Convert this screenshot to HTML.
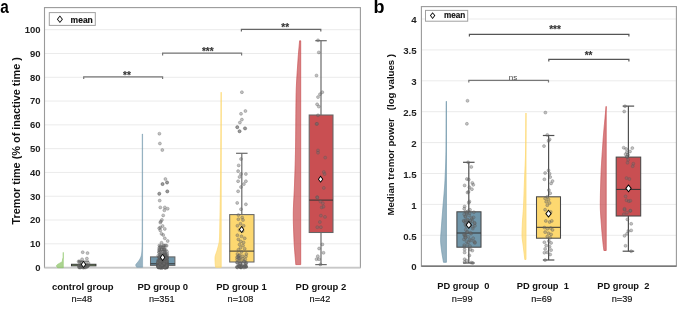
<!DOCTYPE html>
<html><head><meta charset="utf-8"><style>
html,body{margin:0;padding:0;background:#fff;}
svg{display:block;font-family:"Liberation Sans", sans-serif;will-change:transform;}
text{white-space:pre;}
</style></head><body>
<svg width="685" height="312" viewBox="0 0 685 312">
<rect width="685" height="312" fill="#fff"/>
<text transform="translate(0.2,12.5) scale(0.87,1)" font-size="17.6" font-weight="bold" fill="#000">a</text>
<text x="373.60" y="12.50" font-size="18" font-weight="bold" text-anchor="start" fill="#000" >b</text>
<line x1="44.50" y1="243.81" x2="360.40" y2="243.81" stroke="#ebebeb" stroke-width="1" />
<line x1="44.50" y1="220.02" x2="360.40" y2="220.02" stroke="#ebebeb" stroke-width="1" />
<line x1="44.50" y1="196.23" x2="360.40" y2="196.23" stroke="#ebebeb" stroke-width="1" />
<line x1="44.50" y1="172.44" x2="360.40" y2="172.44" stroke="#ebebeb" stroke-width="1" />
<line x1="44.50" y1="148.65" x2="360.40" y2="148.65" stroke="#ebebeb" stroke-width="1" />
<line x1="44.50" y1="124.86" x2="360.40" y2="124.86" stroke="#ebebeb" stroke-width="1" />
<line x1="44.50" y1="101.07" x2="360.40" y2="101.07" stroke="#ebebeb" stroke-width="1" />
<line x1="44.50" y1="77.28" x2="360.40" y2="77.28" stroke="#ebebeb" stroke-width="1" />
<line x1="44.50" y1="53.49" x2="360.40" y2="53.49" stroke="#ebebeb" stroke-width="1" />
<line x1="44.50" y1="29.70" x2="360.40" y2="29.70" stroke="#ebebeb" stroke-width="1" />
<text x="40.60" y="271.00" font-size="9.5" font-weight="bold" text-anchor="end" fill="#222" >0</text>
<text x="40.60" y="247.21" font-size="9.5" font-weight="bold" text-anchor="end" fill="#222" >10</text>
<text x="40.60" y="223.42" font-size="9.5" font-weight="bold" text-anchor="end" fill="#222" >20</text>
<text x="40.60" y="199.63" font-size="9.5" font-weight="bold" text-anchor="end" fill="#222" >30</text>
<text x="40.60" y="175.84" font-size="9.5" font-weight="bold" text-anchor="end" fill="#222" >40</text>
<text x="40.60" y="152.05" font-size="9.5" font-weight="bold" text-anchor="end" fill="#222" >50</text>
<text x="40.60" y="128.26" font-size="9.5" font-weight="bold" text-anchor="end" fill="#222" >60</text>
<text x="40.60" y="104.47" font-size="9.5" font-weight="bold" text-anchor="end" fill="#222" >70</text>
<text x="40.60" y="80.68" font-size="9.5" font-weight="bold" text-anchor="end" fill="#222" >80</text>
<text x="40.60" y="56.89" font-size="9.5" font-weight="bold" text-anchor="end" fill="#222" >90</text>
<text x="40.60" y="33.10" font-size="9.5" font-weight="bold" text-anchor="end" fill="#222" >100</text>
<text transform="translate(20.3,224.6) rotate(-90) scale(1.09,1)" font-size="10" font-weight="bold" fill="#111">Tremor time (% of inactive time )</text>
<rect x="44.5" y="7.6" width="315.90" height="260.00" fill="none" stroke="#9a9a9a" stroke-width="1.1"/>
<line x1="44.5" y1="267.6" x2="360.4" y2="267.6" stroke="#c8c8c8" stroke-width="1.6"/>
<path d="M63.30,252.40 L63.25,252.40 L63.24,253.40 L63.23,254.40 L63.23,255.40 L63.22,256.40 L63.20,257.40 L62.85,258.40 L62.54,259.40 L62.45,260.40 L62.32,261.40 L61.13,262.40 L59.28,263.40 L57.52,264.40 L56.53,265.40 L56.60,266.40 L57.39,267.40 L57.60,267.70 L63.30,267.70 Z" fill="#8cc466" fill-opacity="0.72" stroke="#8cc466" stroke-opacity="0.8" stroke-width="0.7" stroke-linejoin="round"/>
<path d="M142.60,134.00 L142.20,134.00 L142.20,135.00 L142.20,136.00 L142.20,137.00 L142.20,138.00 L142.20,139.00 L142.20,140.00 L142.19,141.00 L142.19,142.00 L142.19,143.00 L142.19,144.00 L142.19,145.00 L142.19,146.00 L142.19,147.00 L142.19,148.00 L142.19,149.00 L142.19,150.00 L142.19,151.00 L142.19,152.00 L142.19,153.00 L142.19,154.00 L142.18,155.00 L142.18,156.00 L142.18,157.00 L142.18,158.00 L142.18,159.00 L142.18,160.00 L142.18,161.00 L142.18,162.00 L142.18,163.00 L142.18,164.00 L142.18,165.00 L142.18,166.00 L142.18,167.00 L142.18,168.00 L142.18,169.00 L142.17,170.00 L142.17,171.00 L142.17,172.00 L142.17,173.00 L142.17,174.00 L142.17,175.00 L142.17,176.00 L142.17,177.00 L142.17,178.00 L142.17,179.00 L142.17,180.00 L142.17,181.00 L142.17,182.00 L142.16,183.00 L142.16,184.00 L142.16,185.00 L142.16,186.00 L142.16,187.00 L142.16,188.00 L142.16,189.00 L142.16,190.00 L142.16,191.00 L142.16,192.00 L142.16,193.00 L142.16,194.00 L142.15,195.00 L142.15,196.00 L142.15,197.00 L142.15,198.00 L142.15,199.00 L142.15,200.00 L142.15,201.00 L142.15,202.00 L142.15,203.00 L142.15,204.00 L142.15,205.00 L142.14,206.00 L142.14,207.00 L142.14,208.00 L142.14,209.00 L142.14,210.00 L142.14,211.00 L142.14,212.00 L142.14,213.00 L142.14,214.00 L142.14,215.00 L142.14,216.00 L142.14,217.00 L142.13,218.00 L142.13,219.00 L142.13,220.00 L142.13,221.00 L142.13,222.00 L142.13,223.00 L142.13,224.00 L142.13,225.00 L142.13,226.00 L142.12,227.00 L142.12,228.00 L142.12,229.00 L142.12,230.00 L142.12,231.00 L142.12,232.00 L142.11,233.00 L142.11,234.00 L142.11,235.00 L142.11,236.00 L142.11,237.00 L142.10,238.00 L142.10,239.00 L142.10,240.00 L142.10,241.00 L142.09,242.00 L142.07,243.00 L142.06,244.00 L142.04,245.00 L142.02,246.00 L141.99,247.00 L141.96,248.00 L141.93,249.00 L141.90,250.00 L141.85,251.00 L141.77,252.00 L141.67,253.00 L141.55,254.00 L141.40,255.00 L141.17,256.00 L140.82,257.00 L140.40,258.00 L139.90,259.00 L139.28,260.00 L138.60,261.00 L137.82,262.00 L137.00,263.00 L136.11,264.00 L135.60,265.00 L135.93,266.00 L136.54,267.00 L136.70,267.30 L142.60,267.30 Z" fill="#7096aa" fill-opacity="0.72" stroke="#7096aa" stroke-opacity="0.8" stroke-width="0.6" stroke-linejoin="round"/>
<path d="M221.20,92.20 L221.15,92.20 L221.14,93.20 L221.14,94.20 L221.13,95.20 L221.12,96.20 L221.12,97.20 L221.11,98.20 L221.10,99.20 L221.10,100.20 L221.09,101.20 L221.09,102.20 L221.08,103.20 L221.07,104.20 L221.07,105.20 L221.06,106.20 L221.06,107.20 L221.05,108.20 L221.04,109.20 L221.04,110.20 L221.03,111.20 L221.03,112.20 L221.02,113.20 L221.02,114.20 L221.01,115.20 L221.00,116.20 L221.00,117.20 L220.99,118.20 L220.99,119.20 L220.98,120.20 L220.98,121.20 L220.97,122.20 L220.96,123.20 L220.96,124.20 L220.95,125.20 L220.95,126.20 L220.94,127.20 L220.94,128.20 L220.93,129.20 L220.92,130.20 L220.92,131.20 L220.91,132.20 L220.91,133.20 L220.90,134.20 L220.89,135.20 L220.89,136.20 L220.88,137.20 L220.88,138.20 L220.87,139.20 L220.86,140.20 L220.86,141.20 L220.85,142.20 L220.84,143.20 L220.84,144.20 L220.83,145.20 L220.82,146.20 L220.82,147.20 L220.81,148.20 L220.80,149.20 L220.80,150.20 L220.79,151.20 L220.78,152.20 L220.78,153.20 L220.77,154.20 L220.76,155.20 L220.76,156.20 L220.75,157.20 L220.74,158.20 L220.73,159.20 L220.73,160.20 L220.72,161.20 L220.71,162.20 L220.70,163.20 L220.69,164.20 L220.69,165.20 L220.68,166.20 L220.67,167.20 L220.66,168.20 L220.65,169.20 L220.64,170.20 L220.63,171.20 L220.63,172.20 L220.62,173.20 L220.61,174.20 L220.60,175.20 L220.59,176.20 L220.58,177.20 L220.57,178.20 L220.56,179.20 L220.55,180.20 L220.53,181.20 L220.52,182.20 L220.51,183.20 L220.50,184.20 L220.49,185.20 L220.47,186.20 L220.46,187.20 L220.45,188.20 L220.43,189.20 L220.42,190.20 L220.40,191.20 L220.39,192.20 L220.37,193.20 L220.36,194.20 L220.34,195.20 L220.33,196.20 L220.31,197.20 L220.30,198.20 L220.28,199.20 L220.26,200.20 L220.25,201.20 L220.23,202.20 L220.21,203.20 L220.19,204.20 L220.18,205.20 L220.16,206.20 L220.14,207.20 L220.12,208.20 L220.10,209.20 L220.09,210.20 L220.07,211.20 L220.05,212.20 L220.03,213.20 L220.01,214.20 L219.99,215.20 L219.97,216.20 L219.95,217.20 L219.93,218.20 L219.91,219.20 L219.90,220.20 L219.88,221.20 L219.86,222.20 L219.84,223.20 L219.82,224.20 L219.80,225.20 L219.78,226.20 L219.76,227.20 L219.74,228.20 L219.72,229.20 L219.70,230.20 L219.68,231.20 L219.66,232.20 L219.64,233.20 L219.61,234.20 L219.58,235.20 L219.55,236.20 L219.52,237.20 L219.48,238.20 L219.44,239.20 L219.39,240.20 L219.30,241.20 L219.16,242.20 L218.97,243.20 L218.74,244.20 L218.49,245.20 L218.23,246.20 L217.95,247.20 L217.67,248.20 L217.40,249.20 L217.15,250.20 L216.85,251.20 L216.51,252.20 L216.14,253.20 L215.79,254.20 L215.46,255.20 L215.21,256.20 L215.04,257.20 L215.00,258.20 L215.01,259.20 L215.04,260.20 L215.08,261.20 L215.13,262.20 L215.18,263.20 L215.25,264.20 L215.32,265.20 L215.48,266.20 L215.68,267.20 L215.70,267.30 L221.20,267.30 Z" fill="#fdd870" fill-opacity="0.72" stroke="#fdd870" stroke-opacity="0.8" stroke-width="0.9" stroke-linejoin="round"/>
<path d="M300.70,40.80 L299.60,40.80 L299.52,41.80 L299.43,42.80 L299.34,43.80 L299.26,44.80 L299.17,45.80 L299.08,46.80 L298.99,47.80 L298.90,48.80 L298.81,49.80 L298.72,50.80 L298.64,51.80 L298.55,52.80 L298.47,53.80 L298.38,54.80 L298.30,55.80 L298.23,56.80 L298.15,57.80 L298.08,58.80 L298.01,59.80 L297.95,60.80 L297.88,61.80 L297.81,62.80 L297.75,63.80 L297.68,64.80 L297.61,65.80 L297.54,66.80 L297.47,67.80 L297.41,68.80 L297.34,69.80 L297.27,70.80 L297.20,71.80 L297.14,72.80 L297.07,73.80 L297.01,74.80 L296.95,75.80 L296.88,76.80 L296.82,77.80 L296.76,78.80 L296.71,79.80 L296.65,80.80 L296.60,81.80 L296.54,82.80 L296.49,83.80 L296.44,84.80 L296.40,85.80 L296.35,86.80 L296.31,87.80 L296.27,88.80 L296.24,89.80 L296.21,90.80 L296.18,91.80 L296.15,92.80 L296.12,93.80 L296.10,94.80 L296.09,95.80 L296.07,96.80 L296.05,97.80 L296.04,98.80 L296.02,99.80 L296.01,100.80 L295.99,101.80 L295.98,102.80 L295.96,103.80 L295.95,104.80 L295.94,105.80 L295.93,106.80 L295.92,107.80 L295.91,108.80 L295.90,109.80 L295.89,110.80 L295.88,111.80 L295.87,112.80 L295.86,113.80 L295.85,114.80 L295.84,115.80 L295.83,116.80 L295.82,117.80 L295.81,118.80 L295.81,119.80 L295.80,120.80 L295.79,121.80 L295.78,122.80 L295.77,123.80 L295.77,124.80 L295.76,125.80 L295.75,126.80 L295.74,127.80 L295.73,128.80 L295.73,129.80 L295.72,130.80 L295.71,131.80 L295.70,132.80 L295.69,133.80 L295.68,134.80 L295.67,135.80 L295.66,136.80 L295.65,137.80 L295.64,138.80 L295.63,139.80 L295.62,140.80 L295.61,141.80 L295.60,142.80 L295.59,143.80 L295.57,144.80 L295.56,145.80 L295.55,146.80 L295.53,147.80 L295.52,148.80 L295.50,149.80 L295.49,150.80 L295.47,151.80 L295.45,152.80 L295.43,153.80 L295.41,154.80 L295.39,155.80 L295.37,156.80 L295.34,157.80 L295.32,158.80 L295.29,159.80 L295.27,160.80 L295.24,161.80 L295.21,162.80 L295.19,163.80 L295.16,164.80 L295.13,165.80 L295.10,166.80 L295.07,167.80 L295.04,168.80 L295.01,169.80 L294.97,170.80 L294.94,171.80 L294.91,172.80 L294.88,173.80 L294.84,174.80 L294.81,175.80 L294.78,176.80 L294.74,177.80 L294.71,178.80 L294.67,179.80 L294.64,180.80 L294.61,181.80 L294.57,182.80 L294.54,183.80 L294.51,184.80 L294.47,185.80 L294.43,186.80 L294.39,187.80 L294.35,188.80 L294.30,189.80 L294.26,190.80 L294.21,191.80 L294.16,192.80 L294.10,193.80 L294.05,194.80 L294.00,195.80 L293.94,196.80 L293.89,197.80 L293.84,198.80 L293.79,199.80 L293.73,200.80 L293.68,201.80 L293.64,202.80 L293.59,203.80 L293.55,204.80 L293.50,205.80 L293.47,206.80 L293.43,207.80 L293.40,208.80 L293.37,209.80 L293.35,210.80 L293.33,211.80 L293.31,212.80 L293.30,213.80 L293.30,214.80 L293.30,215.80 L293.31,216.80 L293.31,217.80 L293.32,218.80 L293.34,219.80 L293.35,220.80 L293.37,221.80 L293.39,222.80 L293.42,223.80 L293.44,224.80 L293.47,225.80 L293.50,226.80 L293.53,227.80 L293.57,228.80 L293.60,229.80 L293.64,230.80 L293.67,231.80 L293.71,232.80 L293.75,233.80 L293.79,234.80 L293.83,235.80 L293.87,236.80 L293.91,237.80 L293.95,238.80 L293.99,239.80 L294.03,240.80 L294.08,241.80 L294.13,242.80 L294.19,243.80 L294.25,244.80 L294.31,245.80 L294.38,246.80 L294.45,247.80 L294.53,248.80 L294.60,249.80 L294.68,250.80 L294.76,251.80 L294.84,252.80 L294.92,253.80 L295.01,254.80 L295.09,255.80 L295.17,256.80 L295.26,257.80 L295.34,258.80 L295.42,259.80 L295.51,260.80 L295.59,261.80 L295.66,262.80 L295.74,263.80 L295.80,264.60 L300.70,264.60 Z" fill="#c94f52" fill-opacity="0.72" stroke="#c94f52" stroke-opacity="0.8" stroke-width="0.9" stroke-linejoin="round"/>
<line x1="83.60" y1="261.20" x2="83.60" y2="264.30" stroke="#6a6a6a" stroke-width="1.2" />
<line x1="78.10" y1="261.20" x2="89.10" y2="261.20" stroke="#6a6a6a" stroke-width="1.2" />
<rect x="71.50" y="264.30" width="24.40" height="1.50" fill="#8cc466" stroke="#3a3a3a" stroke-width="1.05"/>
<rect x="150.50" y="256.90" width="24.40" height="8.50" fill="#7096aa" stroke="#666" stroke-width="1.05"/>
<line x1="150.50" y1="263.80" x2="174.90" y2="263.80" stroke="#333" stroke-width="1" />
<line x1="241.80" y1="153.30" x2="241.80" y2="214.60" stroke="#6a6a6a" stroke-width="1.2" />
<line x1="236.05" y1="153.30" x2="247.55" y2="153.30" stroke="#6a6a6a" stroke-width="1.2" />
<line x1="241.80" y1="262.00" x2="241.80" y2="267.20" stroke="#6a6a6a" stroke-width="1.2" />
<line x1="236.05" y1="267.20" x2="247.55" y2="267.20" stroke="#6a6a6a" stroke-width="1.2" />
<rect x="229.70" y="214.60" width="24.30" height="47.40" fill="#fdd870" stroke="#666" stroke-width="1.05"/>
<line x1="229.70" y1="251.10" x2="254.00" y2="251.10" stroke="#333" stroke-width="1" />
<line x1="321.00" y1="40.70" x2="321.00" y2="115.00" stroke="#6a6a6a" stroke-width="1.2" />
<line x1="315.25" y1="40.70" x2="326.75" y2="40.70" stroke="#6a6a6a" stroke-width="1.2" />
<line x1="321.00" y1="232.50" x2="321.00" y2="264.60" stroke="#6a6a6a" stroke-width="1.2" />
<line x1="315.25" y1="264.60" x2="326.75" y2="264.60" stroke="#6a6a6a" stroke-width="1.2" />
<rect x="309.20" y="115.00" width="23.80" height="117.50" fill="#c94f52" stroke="#666" stroke-width="1.05"/>
<line x1="309.20" y1="200.10" x2="333.00" y2="200.10" stroke="#333" stroke-width="1" />
<line x1="421.40" y1="235.30" x2="676.40" y2="235.30" stroke="#ebebeb" stroke-width="1" />
<line x1="421.40" y1="204.40" x2="676.40" y2="204.40" stroke="#ebebeb" stroke-width="1" />
<line x1="421.40" y1="173.50" x2="676.40" y2="173.50" stroke="#ebebeb" stroke-width="1" />
<line x1="421.40" y1="142.60" x2="676.40" y2="142.60" stroke="#ebebeb" stroke-width="1" />
<line x1="421.40" y1="111.70" x2="676.40" y2="111.70" stroke="#ebebeb" stroke-width="1" />
<line x1="421.40" y1="80.80" x2="676.40" y2="80.80" stroke="#ebebeb" stroke-width="1" />
<line x1="421.40" y1="49.90" x2="676.40" y2="49.90" stroke="#ebebeb" stroke-width="1" />
<line x1="421.40" y1="19.00" x2="676.40" y2="19.00" stroke="#ebebeb" stroke-width="1" />
<text x="416.70" y="270.40" font-size="9.7" font-weight="bold" text-anchor="end" fill="#222" >0</text>
<text x="416.70" y="239.50" font-size="9.7" font-weight="bold" text-anchor="end" fill="#222" >0.5</text>
<text x="416.70" y="208.60" font-size="9.7" font-weight="bold" text-anchor="end" fill="#222" >1</text>
<text x="416.70" y="177.70" font-size="9.7" font-weight="bold" text-anchor="end" fill="#222" >1.5</text>
<text x="416.70" y="146.80" font-size="9.7" font-weight="bold" text-anchor="end" fill="#222" >2</text>
<text x="416.70" y="115.90" font-size="9.7" font-weight="bold" text-anchor="end" fill="#222" >2.5</text>
<text x="416.70" y="85.00" font-size="9.7" font-weight="bold" text-anchor="end" fill="#222" >3</text>
<text x="416.70" y="54.10" font-size="9.7" font-weight="bold" text-anchor="end" fill="#222" >3.5</text>
<text x="416.70" y="23.20" font-size="9.7" font-weight="bold" text-anchor="end" fill="#222" >4</text>
<text transform="translate(394.4,215.5) rotate(-90)" font-size="9.65" font-weight="bold" fill="#111">Median tremor power   (log values )</text>
<rect x="421.4" y="6.6" width="255.00" height="259.60" fill="none" stroke="#9a9a9a" stroke-width="1.1"/>
<line x1="421.4" y1="266.2" x2="676.4" y2="266.2" stroke="#666" stroke-width="1.2"/>
<path d="M446.40,101.30 L446.30,101.30 L446.29,102.30 L446.29,103.30 L446.28,104.30 L446.28,105.30 L446.27,106.30 L446.27,107.30 L446.26,108.30 L446.26,109.30 L446.25,110.30 L446.25,111.30 L446.24,112.30 L446.24,113.30 L446.23,114.30 L446.23,115.30 L446.22,116.30 L446.22,117.30 L446.21,118.30 L446.21,119.30 L446.20,120.30 L446.20,121.30 L446.19,122.30 L446.19,123.30 L446.18,124.30 L446.18,125.30 L446.17,126.30 L446.17,127.30 L446.16,128.30 L446.16,129.30 L446.15,130.30 L446.15,131.30 L446.14,132.30 L446.13,133.30 L446.13,134.30 L446.12,135.30 L446.11,136.30 L446.11,137.30 L446.10,138.30 L446.09,139.30 L446.09,140.30 L446.08,141.30 L446.07,142.30 L446.06,143.30 L446.05,144.30 L446.05,145.30 L446.04,146.30 L446.03,147.30 L446.02,148.30 L446.01,149.30 L446.00,150.30 L445.98,151.30 L445.97,152.30 L445.95,153.30 L445.94,154.30 L445.92,155.30 L445.89,156.30 L445.87,157.30 L445.84,158.30 L445.82,159.30 L445.79,160.30 L445.76,161.30 L445.73,162.30 L445.69,163.30 L445.66,164.30 L445.62,165.30 L445.59,166.30 L445.55,167.30 L445.51,168.30 L445.47,169.30 L445.43,170.30 L445.39,171.30 L445.35,172.30 L445.30,173.30 L445.26,174.30 L445.21,175.30 L445.17,176.30 L445.12,177.30 L445.08,178.30 L445.03,179.30 L444.99,180.30 L444.94,181.30 L444.88,182.30 L444.83,183.30 L444.77,184.30 L444.70,185.30 L444.63,186.30 L444.57,187.30 L444.49,188.30 L444.42,189.30 L444.34,190.30 L444.26,191.30 L444.18,192.30 L444.10,193.30 L444.02,194.30 L443.93,195.30 L443.85,196.30 L443.76,197.30 L443.68,198.30 L443.59,199.30 L443.50,200.30 L443.42,201.30 L443.33,202.30 L443.25,203.30 L443.16,204.30 L443.08,205.30 L442.99,206.30 L442.91,207.30 L442.83,208.30 L442.75,209.30 L442.68,210.30 L442.60,211.30 L442.52,212.30 L442.45,213.30 L442.37,214.30 L442.29,215.30 L442.21,216.30 L442.14,217.30 L442.06,218.30 L441.98,219.30 L441.90,220.30 L441.83,221.30 L441.75,222.30 L441.68,223.30 L441.60,224.30 L441.53,225.30 L441.46,226.30 L441.39,227.30 L441.32,228.30 L441.25,229.30 L441.18,230.30 L441.11,231.30 L441.03,232.30 L440.95,233.30 L440.87,234.30 L440.79,235.30 L440.73,236.30 L440.67,237.30 L440.63,238.30 L440.61,239.30 L440.60,240.30 L440.62,241.30 L440.67,242.30 L440.74,243.30 L440.83,244.30 L440.94,245.30 L441.05,246.30 L441.17,247.30 L441.30,248.30 L441.42,249.30 L441.54,250.30 L441.66,251.30 L441.80,252.30 L441.95,253.30 L442.11,254.30 L442.28,255.30 L442.45,256.30 L442.63,257.30 L442.81,258.30 L442.99,259.30 L443.16,260.30 L443.33,261.30 L443.50,262.30 L446.40,262.30 Z" fill="#7096aa" fill-opacity="0.72" stroke="#7096aa" stroke-opacity="0.8" stroke-width="0.9" stroke-linejoin="round"/>
<path d="M526.00,113.00 L525.95,113.00 L525.94,114.00 L525.93,115.00 L525.92,116.00 L525.91,117.00 L525.91,118.00 L525.90,119.00 L525.89,120.00 L525.88,121.00 L525.87,122.00 L525.87,123.00 L525.86,124.00 L525.85,125.00 L525.84,126.00 L525.84,127.00 L525.83,128.00 L525.82,129.00 L525.81,130.00 L525.80,131.00 L525.80,132.00 L525.79,133.00 L525.78,134.00 L525.77,135.00 L525.76,136.00 L525.75,137.00 L525.74,138.00 L525.73,139.00 L525.72,140.00 L525.71,141.00 L525.70,142.00 L525.69,143.00 L525.68,144.00 L525.67,145.00 L525.66,146.00 L525.64,147.00 L525.63,148.00 L525.61,149.00 L525.60,150.00 L525.58,151.00 L525.56,152.00 L525.54,153.00 L525.52,154.00 L525.49,155.00 L525.47,156.00 L525.44,157.00 L525.41,158.00 L525.37,159.00 L525.34,160.00 L525.30,161.00 L525.27,162.00 L525.23,163.00 L525.19,164.00 L525.15,165.00 L525.11,166.00 L525.06,167.00 L525.02,168.00 L524.98,169.00 L524.93,170.00 L524.89,171.00 L524.84,172.00 L524.80,173.00 L524.76,174.00 L524.71,175.00 L524.67,176.00 L524.62,177.00 L524.58,178.00 L524.54,179.00 L524.50,180.00 L524.45,181.00 L524.41,182.00 L524.37,183.00 L524.34,184.00 L524.30,185.00 L524.26,186.00 L524.23,187.00 L524.20,188.00 L524.16,189.00 L524.13,190.00 L524.10,191.00 L524.07,192.00 L524.04,193.00 L524.01,194.00 L523.97,195.00 L523.94,196.00 L523.91,197.00 L523.87,198.00 L523.84,199.00 L523.80,200.00 L523.77,201.00 L523.73,202.00 L523.69,203.00 L523.64,204.00 L523.60,205.00 L523.55,206.00 L523.50,207.00 L523.44,208.00 L523.37,209.00 L523.31,210.00 L523.24,211.00 L523.16,212.00 L523.09,213.00 L523.01,214.00 L522.94,215.00 L522.86,216.00 L522.79,217.00 L522.72,218.00 L522.64,219.00 L522.58,220.00 L522.51,221.00 L522.45,222.00 L522.39,223.00 L522.34,224.00 L522.30,225.00 L522.26,226.00 L522.22,227.00 L522.17,228.00 L522.14,229.00 L522.10,230.00 L522.07,231.00 L522.04,232.00 L522.02,233.00 L522.00,234.00 L522.00,235.00 L522.02,236.00 L522.08,237.00 L522.17,238.00 L522.28,239.00 L522.41,240.00 L522.55,241.00 L522.69,242.00 L522.84,243.00 L522.98,244.00 L523.10,245.00 L523.22,246.00 L523.33,247.00 L523.46,248.00 L523.58,249.00 L523.70,250.00 L523.82,251.00 L523.94,252.00 L524.06,253.00 L524.18,254.00 L524.30,255.00 L524.41,256.00 L524.52,257.00 L524.63,258.00 L524.74,259.00 L524.80,259.50 L526.00,259.50 Z" fill="#fdd870" fill-opacity="0.72" stroke="#fdd870" stroke-opacity="0.8" stroke-width="0.9" stroke-linejoin="round"/>
<path d="M606.20,106.40 L606.10,106.40 L606.01,107.40 L605.92,108.40 L605.83,109.40 L605.73,110.40 L605.64,111.40 L605.55,112.40 L605.45,113.40 L605.36,114.40 L605.26,115.40 L605.17,116.40 L605.07,117.40 L604.98,118.40 L604.88,119.40 L604.78,120.40 L604.69,121.40 L604.59,122.40 L604.50,123.40 L604.41,124.40 L604.31,125.40 L604.22,126.40 L604.13,127.40 L604.04,128.40 L603.95,129.40 L603.86,130.40 L603.78,131.40 L603.69,132.40 L603.61,133.40 L603.52,134.40 L603.44,135.40 L603.37,136.40 L603.29,137.40 L603.21,138.40 L603.14,139.40 L603.07,140.40 L603.00,141.40 L602.93,142.40 L602.86,143.40 L602.79,144.40 L602.72,145.40 L602.65,146.40 L602.58,147.40 L602.51,148.40 L602.44,149.40 L602.38,150.40 L602.31,151.40 L602.24,152.40 L602.17,153.40 L602.11,154.40 L602.04,155.40 L601.98,156.40 L601.91,157.40 L601.85,158.40 L601.79,159.40 L601.72,160.40 L601.66,161.40 L601.60,162.40 L601.55,163.40 L601.49,164.40 L601.43,165.40 L601.38,166.40 L601.33,167.40 L601.27,168.40 L601.22,169.40 L601.18,170.40 L601.13,171.40 L601.08,172.40 L601.04,173.40 L601.00,174.40 L600.96,175.40 L600.92,176.40 L600.88,177.40 L600.85,178.40 L600.82,179.40 L600.79,180.40 L600.76,181.40 L600.73,182.40 L600.70,183.40 L600.67,184.40 L600.64,185.40 L600.61,186.40 L600.59,187.40 L600.56,188.40 L600.53,189.40 L600.51,190.40 L600.48,191.40 L600.46,192.40 L600.44,193.40 L600.42,194.40 L600.40,195.40 L600.38,196.40 L600.36,197.40 L600.35,198.40 L600.34,199.40 L600.32,200.40 L600.31,201.40 L600.31,202.40 L600.30,203.40 L600.30,204.40 L600.30,205.40 L600.31,206.40 L600.33,207.40 L600.35,208.40 L600.38,209.40 L600.42,210.40 L600.47,211.40 L600.52,212.40 L600.58,213.40 L600.64,214.40 L600.71,215.40 L600.77,216.40 L600.84,217.40 L600.92,218.40 L600.99,219.40 L601.07,220.40 L601.14,221.40 L601.21,222.40 L601.29,223.40 L601.36,224.40 L601.43,225.40 L601.50,226.40 L601.57,227.40 L601.65,228.40 L601.73,229.40 L601.81,230.40 L601.89,231.40 L601.98,232.40 L602.06,233.40 L602.15,234.40 L602.24,235.40 L602.34,236.40 L602.43,237.40 L602.53,238.40 L602.63,239.40 L602.73,240.40 L602.83,241.40 L602.93,242.40 L603.03,243.40 L603.14,244.40 L603.24,245.40 L603.36,246.40 L603.49,247.40 L603.62,248.40 L603.76,249.40 L603.89,250.40 L603.90,250.50 L606.20,250.50 Z" fill="#c94f52" fill-opacity="0.72" stroke="#c94f52" stroke-opacity="0.8" stroke-width="0.9" stroke-linejoin="round"/>
<line x1="468.80" y1="162.30" x2="468.80" y2="211.80" stroke="#505050" stroke-width="1.2" />
<line x1="463.05" y1="162.30" x2="474.55" y2="162.30" stroke="#505050" stroke-width="1.2" />
<line x1="468.80" y1="247.20" x2="468.80" y2="263.00" stroke="#505050" stroke-width="1.2" />
<line x1="463.05" y1="263.00" x2="474.55" y2="263.00" stroke="#505050" stroke-width="1.2" />
<rect x="456.90" y="211.80" width="24.10" height="35.40" fill="#7096aa" stroke="#484848" stroke-width="1.05"/>
<line x1="456.90" y1="233.00" x2="481.00" y2="233.00" stroke="#333" stroke-width="1" />
<line x1="548.60" y1="135.50" x2="548.60" y2="196.80" stroke="#505050" stroke-width="1.2" />
<line x1="542.85" y1="135.50" x2="554.35" y2="135.50" stroke="#505050" stroke-width="1.2" />
<line x1="548.60" y1="238.20" x2="548.60" y2="260.00" stroke="#505050" stroke-width="1.2" />
<line x1="542.85" y1="260.00" x2="554.35" y2="260.00" stroke="#505050" stroke-width="1.2" />
<rect x="536.50" y="196.80" width="24.00" height="41.40" fill="#fdd870" stroke="#484848" stroke-width="1.05"/>
<line x1="536.50" y1="227.30" x2="560.50" y2="227.30" stroke="#333" stroke-width="1" />
<line x1="628.40" y1="106.10" x2="628.40" y2="157.10" stroke="#505050" stroke-width="1.2" />
<line x1="622.65" y1="106.10" x2="634.15" y2="106.10" stroke="#505050" stroke-width="1.2" />
<line x1="628.40" y1="216.00" x2="628.40" y2="251.20" stroke="#505050" stroke-width="1.2" />
<line x1="622.65" y1="251.20" x2="634.15" y2="251.20" stroke="#505050" stroke-width="1.2" />
<rect x="616.20" y="157.10" width="24.50" height="58.90" fill="#c94f52" stroke="#484848" stroke-width="1.05"/>
<line x1="616.20" y1="189.40" x2="640.70" y2="189.40" stroke="#333" stroke-width="1" />
<circle cx="82.70" cy="252.20" r="1.5" fill="rgba(110,110,110,0.42)" stroke="rgba(85,85,85,0.5)" stroke-width="0.6"/>
<circle cx="87.50" cy="253.10" r="1.5" fill="rgba(110,110,110,0.42)" stroke="rgba(85,85,85,0.5)" stroke-width="0.6"/>
<circle cx="82.10" cy="259.30" r="1.5" fill="rgba(110,110,110,0.42)" stroke="rgba(85,85,85,0.5)" stroke-width="0.6"/>
<circle cx="86.90" cy="258.60" r="1.5" fill="rgba(110,110,110,0.42)" stroke="rgba(85,85,85,0.5)" stroke-width="0.6"/>
<circle cx="79.76" cy="266.67" r="1.5" fill="rgba(110,110,110,0.42)" stroke="rgba(85,85,85,0.5)" stroke-width="0.6"/>
<circle cx="78.90" cy="265.10" r="1.5" fill="rgba(110,110,110,0.42)" stroke="rgba(85,85,85,0.5)" stroke-width="0.6"/>
<circle cx="82.12" cy="265.77" r="1.5" fill="rgba(110,110,110,0.42)" stroke="rgba(85,85,85,0.5)" stroke-width="0.6"/>
<circle cx="83.68" cy="267.46" r="1.5" fill="rgba(110,110,110,0.42)" stroke="rgba(85,85,85,0.5)" stroke-width="0.6"/>
<circle cx="82.87" cy="267.51" r="1.5" fill="rgba(110,110,110,0.42)" stroke="rgba(85,85,85,0.5)" stroke-width="0.6"/>
<circle cx="79.10" cy="267.43" r="1.5" fill="rgba(110,110,110,0.42)" stroke="rgba(85,85,85,0.5)" stroke-width="0.6"/>
<circle cx="87.20" cy="266.29" r="1.5" fill="rgba(110,110,110,0.42)" stroke="rgba(85,85,85,0.5)" stroke-width="0.6"/>
<circle cx="80.56" cy="267.29" r="1.5" fill="rgba(110,110,110,0.42)" stroke="rgba(85,85,85,0.5)" stroke-width="0.6"/>
<circle cx="88.52" cy="265.25" r="1.5" fill="rgba(110,110,110,0.42)" stroke="rgba(85,85,85,0.5)" stroke-width="0.6"/>
<circle cx="82.46" cy="265.55" r="1.5" fill="rgba(110,110,110,0.42)" stroke="rgba(85,85,85,0.5)" stroke-width="0.6"/>
<circle cx="78.61" cy="261.41" r="1.5" fill="rgba(110,110,110,0.42)" stroke="rgba(85,85,85,0.5)" stroke-width="0.6"/>
<circle cx="81.29" cy="262.95" r="1.5" fill="rgba(110,110,110,0.42)" stroke="rgba(85,85,85,0.5)" stroke-width="0.6"/>
<circle cx="79.40" cy="267.23" r="1.5" fill="rgba(110,110,110,0.42)" stroke="rgba(85,85,85,0.5)" stroke-width="0.6"/>
<circle cx="87.08" cy="266.72" r="1.5" fill="rgba(110,110,110,0.42)" stroke="rgba(85,85,85,0.5)" stroke-width="0.6"/>
<circle cx="84.50" cy="267.13" r="1.5" fill="rgba(110,110,110,0.42)" stroke="rgba(85,85,85,0.5)" stroke-width="0.6"/>
<circle cx="82.20" cy="265.18" r="1.5" fill="rgba(110,110,110,0.42)" stroke="rgba(85,85,85,0.5)" stroke-width="0.6"/>
<circle cx="78.79" cy="265.71" r="1.5" fill="rgba(110,110,110,0.42)" stroke="rgba(85,85,85,0.5)" stroke-width="0.6"/>
<circle cx="80.37" cy="267.45" r="1.5" fill="rgba(110,110,110,0.42)" stroke="rgba(85,85,85,0.5)" stroke-width="0.6"/>
<circle cx="82.80" cy="264.89" r="1.5" fill="rgba(110,110,110,0.42)" stroke="rgba(85,85,85,0.5)" stroke-width="0.6"/>
<circle cx="84.54" cy="266.70" r="1.5" fill="rgba(110,110,110,0.42)" stroke="rgba(85,85,85,0.5)" stroke-width="0.6"/>
<circle cx="81.40" cy="266.16" r="1.5" fill="rgba(110,110,110,0.42)" stroke="rgba(85,85,85,0.5)" stroke-width="0.6"/>
<circle cx="85.79" cy="263.84" r="1.5" fill="rgba(110,110,110,0.42)" stroke="rgba(85,85,85,0.5)" stroke-width="0.6"/>
<circle cx="84.42" cy="266.93" r="1.5" fill="rgba(110,110,110,0.42)" stroke="rgba(85,85,85,0.5)" stroke-width="0.6"/>
<circle cx="87.73" cy="265.83" r="1.5" fill="rgba(110,110,110,0.42)" stroke="rgba(85,85,85,0.5)" stroke-width="0.6"/>
<circle cx="81.27" cy="264.49" r="1.5" fill="rgba(110,110,110,0.42)" stroke="rgba(85,85,85,0.5)" stroke-width="0.6"/>
<circle cx="79.40" cy="261.41" r="1.5" fill="rgba(110,110,110,0.42)" stroke="rgba(85,85,85,0.5)" stroke-width="0.6"/>
<circle cx="86.43" cy="266.31" r="1.5" fill="rgba(110,110,110,0.42)" stroke="rgba(85,85,85,0.5)" stroke-width="0.6"/>
<circle cx="83.48" cy="267.21" r="1.5" fill="rgba(110,110,110,0.42)" stroke="rgba(85,85,85,0.5)" stroke-width="0.6"/>
<circle cx="85.45" cy="267.50" r="1.5" fill="rgba(110,110,110,0.42)" stroke="rgba(85,85,85,0.5)" stroke-width="0.6"/>
<circle cx="84.40" cy="264.16" r="1.5" fill="rgba(110,110,110,0.42)" stroke="rgba(85,85,85,0.5)" stroke-width="0.6"/>
<circle cx="81.55" cy="262.64" r="1.5" fill="rgba(110,110,110,0.42)" stroke="rgba(85,85,85,0.5)" stroke-width="0.6"/>
<circle cx="84.64" cy="264.77" r="1.5" fill="rgba(110,110,110,0.42)" stroke="rgba(85,85,85,0.5)" stroke-width="0.6"/>
<circle cx="83.12" cy="265.54" r="1.5" fill="rgba(110,110,110,0.42)" stroke="rgba(85,85,85,0.5)" stroke-width="0.6"/>
<circle cx="88.49" cy="263.24" r="1.5" fill="rgba(110,110,110,0.42)" stroke="rgba(85,85,85,0.5)" stroke-width="0.6"/>
<circle cx="159.40" cy="133.70" r="1.5" fill="rgba(110,110,110,0.42)" stroke="rgba(85,85,85,0.5)" stroke-width="0.6"/>
<circle cx="159.90" cy="143.50" r="1.5" fill="rgba(110,110,110,0.42)" stroke="rgba(85,85,85,0.5)" stroke-width="0.6"/>
<circle cx="162.30" cy="150.00" r="1.5" fill="rgba(110,110,110,0.42)" stroke="rgba(85,85,85,0.5)" stroke-width="0.6"/>
<circle cx="165.40" cy="179.00" r="1.5" fill="rgba(110,110,110,0.42)" stroke="rgba(85,85,85,0.5)" stroke-width="0.6"/>
<circle cx="167.00" cy="182.20" r="1.5" fill="rgba(110,110,110,0.42)" stroke="rgba(85,85,85,0.5)" stroke-width="0.6"/>
<circle cx="162.50" cy="184.10" r="1.5" fill="rgba(110,110,110,0.42)" stroke="rgba(85,85,85,0.5)" stroke-width="0.6"/>
<circle cx="167.30" cy="191.60" r="1.5" fill="rgba(110,110,110,0.42)" stroke="rgba(85,85,85,0.5)" stroke-width="0.6"/>
<circle cx="159.40" cy="193.50" r="1.5" fill="rgba(110,110,110,0.42)" stroke="rgba(85,85,85,0.5)" stroke-width="0.6"/>
<circle cx="167.10" cy="182.70" r="1.5" fill="rgba(110,110,110,0.42)" stroke="rgba(85,85,85,0.5)" stroke-width="0.6"/>
<circle cx="162.60" cy="184.00" r="1.5" fill="rgba(110,110,110,0.42)" stroke="rgba(85,85,85,0.5)" stroke-width="0.6"/>
<circle cx="167.30" cy="191.20" r="1.5" fill="rgba(110,110,110,0.42)" stroke="rgba(85,85,85,0.5)" stroke-width="0.6"/>
<circle cx="159.20" cy="193.90" r="1.5" fill="rgba(110,110,110,0.42)" stroke="rgba(85,85,85,0.5)" stroke-width="0.6"/>
<circle cx="159.70" cy="200.60" r="1.5" fill="rgba(110,110,110,0.42)" stroke="rgba(85,85,85,0.5)" stroke-width="0.6"/>
<circle cx="160.30" cy="207.40" r="1.5" fill="rgba(110,110,110,0.42)" stroke="rgba(85,85,85,0.5)" stroke-width="0.6"/>
<circle cx="164.80" cy="207.40" r="1.5" fill="rgba(110,110,110,0.42)" stroke="rgba(85,85,85,0.5)" stroke-width="0.6"/>
<circle cx="167.70" cy="208.70" r="1.5" fill="rgba(110,110,110,0.42)" stroke="rgba(85,85,85,0.5)" stroke-width="0.6"/>
<circle cx="164.40" cy="210.30" r="1.5" fill="rgba(110,110,110,0.42)" stroke="rgba(85,85,85,0.5)" stroke-width="0.6"/>
<circle cx="163.20" cy="215.40" r="1.5" fill="rgba(110,110,110,0.42)" stroke="rgba(85,85,85,0.5)" stroke-width="0.6"/>
<circle cx="161.90" cy="219.90" r="1.5" fill="rgba(110,110,110,0.42)" stroke="rgba(85,85,85,0.5)" stroke-width="0.6"/>
<circle cx="160.80" cy="221.50" r="1.5" fill="rgba(110,110,110,0.42)" stroke="rgba(85,85,85,0.5)" stroke-width="0.6"/>
<circle cx="160.30" cy="222.60" r="1.5" fill="rgba(110,110,110,0.42)" stroke="rgba(85,85,85,0.5)" stroke-width="0.6"/>
<circle cx="162.60" cy="226.00" r="1.5" fill="rgba(110,110,110,0.42)" stroke="rgba(85,85,85,0.5)" stroke-width="0.6"/>
<circle cx="160.30" cy="227.50" r="1.5" fill="rgba(110,110,110,0.42)" stroke="rgba(85,85,85,0.5)" stroke-width="0.6"/>
<circle cx="164.80" cy="228.90" r="1.5" fill="rgba(110,110,110,0.42)" stroke="rgba(85,85,85,0.5)" stroke-width="0.6"/>
<circle cx="159.20" cy="228.20" r="1.5" fill="rgba(110,110,110,0.42)" stroke="rgba(85,85,85,0.5)" stroke-width="0.6"/>
<circle cx="160.30" cy="230.40" r="1.5" fill="rgba(110,110,110,0.42)" stroke="rgba(85,85,85,0.5)" stroke-width="0.6"/>
<circle cx="161.50" cy="233.80" r="1.5" fill="rgba(110,110,110,0.42)" stroke="rgba(85,85,85,0.5)" stroke-width="0.6"/>
<circle cx="163.20" cy="234.90" r="1.5" fill="rgba(110,110,110,0.42)" stroke="rgba(85,85,85,0.5)" stroke-width="0.6"/>
<circle cx="164.80" cy="238.30" r="1.5" fill="rgba(110,110,110,0.42)" stroke="rgba(85,85,85,0.5)" stroke-width="0.6"/>
<circle cx="167.70" cy="241.00" r="1.5" fill="rgba(110,110,110,0.42)" stroke="rgba(85,85,85,0.5)" stroke-width="0.6"/>
<circle cx="161.50" cy="242.80" r="1.5" fill="rgba(110,110,110,0.42)" stroke="rgba(85,85,85,0.5)" stroke-width="0.6"/>
<circle cx="164.11" cy="263.93" r="1.5" fill="rgba(110,110,110,0.42)" stroke="rgba(85,85,85,0.5)" stroke-width="0.6"/>
<circle cx="164.45" cy="267.24" r="1.5" fill="rgba(110,110,110,0.42)" stroke="rgba(85,85,85,0.5)" stroke-width="0.6"/>
<circle cx="167.14" cy="261.65" r="1.5" fill="rgba(110,110,110,0.42)" stroke="rgba(85,85,85,0.5)" stroke-width="0.6"/>
<circle cx="160.62" cy="257.75" r="1.5" fill="rgba(110,110,110,0.42)" stroke="rgba(85,85,85,0.5)" stroke-width="0.6"/>
<circle cx="164.15" cy="264.82" r="1.5" fill="rgba(110,110,110,0.42)" stroke="rgba(85,85,85,0.5)" stroke-width="0.6"/>
<circle cx="162.25" cy="267.47" r="1.5" fill="rgba(110,110,110,0.42)" stroke="rgba(85,85,85,0.5)" stroke-width="0.6"/>
<circle cx="159.08" cy="266.55" r="1.5" fill="rgba(110,110,110,0.42)" stroke="rgba(85,85,85,0.5)" stroke-width="0.6"/>
<circle cx="165.07" cy="267.25" r="1.5" fill="rgba(110,110,110,0.42)" stroke="rgba(85,85,85,0.5)" stroke-width="0.6"/>
<circle cx="160.28" cy="266.81" r="1.5" fill="rgba(110,110,110,0.42)" stroke="rgba(85,85,85,0.5)" stroke-width="0.6"/>
<circle cx="166.02" cy="264.77" r="1.5" fill="rgba(110,110,110,0.42)" stroke="rgba(85,85,85,0.5)" stroke-width="0.6"/>
<circle cx="162.13" cy="267.12" r="1.5" fill="rgba(110,110,110,0.42)" stroke="rgba(85,85,85,0.5)" stroke-width="0.6"/>
<circle cx="166.13" cy="263.05" r="1.5" fill="rgba(110,110,110,0.42)" stroke="rgba(85,85,85,0.5)" stroke-width="0.6"/>
<circle cx="165.95" cy="257.83" r="1.5" fill="rgba(110,110,110,0.42)" stroke="rgba(85,85,85,0.5)" stroke-width="0.6"/>
<circle cx="161.82" cy="265.74" r="1.5" fill="rgba(110,110,110,0.42)" stroke="rgba(85,85,85,0.5)" stroke-width="0.6"/>
<circle cx="166.13" cy="265.06" r="1.5" fill="rgba(110,110,110,0.42)" stroke="rgba(85,85,85,0.5)" stroke-width="0.6"/>
<circle cx="159.39" cy="249.54" r="1.5" fill="rgba(110,110,110,0.42)" stroke="rgba(85,85,85,0.5)" stroke-width="0.6"/>
<circle cx="160.13" cy="266.49" r="1.5" fill="rgba(110,110,110,0.42)" stroke="rgba(85,85,85,0.5)" stroke-width="0.6"/>
<circle cx="162.46" cy="266.08" r="1.5" fill="rgba(110,110,110,0.42)" stroke="rgba(85,85,85,0.5)" stroke-width="0.6"/>
<circle cx="160.42" cy="262.52" r="1.5" fill="rgba(110,110,110,0.42)" stroke="rgba(85,85,85,0.5)" stroke-width="0.6"/>
<circle cx="161.85" cy="267.58" r="1.5" fill="rgba(110,110,110,0.42)" stroke="rgba(85,85,85,0.5)" stroke-width="0.6"/>
<circle cx="163.21" cy="264.97" r="1.5" fill="rgba(110,110,110,0.42)" stroke="rgba(85,85,85,0.5)" stroke-width="0.6"/>
<circle cx="164.35" cy="250.13" r="1.5" fill="rgba(110,110,110,0.42)" stroke="rgba(85,85,85,0.5)" stroke-width="0.6"/>
<circle cx="163.68" cy="263.46" r="1.5" fill="rgba(110,110,110,0.42)" stroke="rgba(85,85,85,0.5)" stroke-width="0.6"/>
<circle cx="158.50" cy="261.16" r="1.5" fill="rgba(110,110,110,0.42)" stroke="rgba(85,85,85,0.5)" stroke-width="0.6"/>
<circle cx="165.18" cy="254.48" r="1.5" fill="rgba(110,110,110,0.42)" stroke="rgba(85,85,85,0.5)" stroke-width="0.6"/>
<circle cx="165.34" cy="255.75" r="1.5" fill="rgba(110,110,110,0.42)" stroke="rgba(85,85,85,0.5)" stroke-width="0.6"/>
<circle cx="161.67" cy="264.76" r="1.5" fill="rgba(110,110,110,0.42)" stroke="rgba(85,85,85,0.5)" stroke-width="0.6"/>
<circle cx="163.84" cy="266.98" r="1.5" fill="rgba(110,110,110,0.42)" stroke="rgba(85,85,85,0.5)" stroke-width="0.6"/>
<circle cx="158.62" cy="267.23" r="1.5" fill="rgba(110,110,110,0.42)" stroke="rgba(85,85,85,0.5)" stroke-width="0.6"/>
<circle cx="159.49" cy="266.26" r="1.5" fill="rgba(110,110,110,0.42)" stroke="rgba(85,85,85,0.5)" stroke-width="0.6"/>
<circle cx="158.48" cy="265.23" r="1.5" fill="rgba(110,110,110,0.42)" stroke="rgba(85,85,85,0.5)" stroke-width="0.6"/>
<circle cx="159.39" cy="267.60" r="1.5" fill="rgba(110,110,110,0.42)" stroke="rgba(85,85,85,0.5)" stroke-width="0.6"/>
<circle cx="161.35" cy="266.99" r="1.5" fill="rgba(110,110,110,0.42)" stroke="rgba(85,85,85,0.5)" stroke-width="0.6"/>
<circle cx="166.04" cy="267.45" r="1.5" fill="rgba(110,110,110,0.42)" stroke="rgba(85,85,85,0.5)" stroke-width="0.6"/>
<circle cx="159.37" cy="262.16" r="1.5" fill="rgba(110,110,110,0.42)" stroke="rgba(85,85,85,0.5)" stroke-width="0.6"/>
<circle cx="161.20" cy="265.94" r="1.5" fill="rgba(110,110,110,0.42)" stroke="rgba(85,85,85,0.5)" stroke-width="0.6"/>
<circle cx="159.13" cy="265.01" r="1.5" fill="rgba(110,110,110,0.42)" stroke="rgba(85,85,85,0.5)" stroke-width="0.6"/>
<circle cx="167.14" cy="256.81" r="1.5" fill="rgba(110,110,110,0.42)" stroke="rgba(85,85,85,0.5)" stroke-width="0.6"/>
<circle cx="162.45" cy="264.02" r="1.5" fill="rgba(110,110,110,0.42)" stroke="rgba(85,85,85,0.5)" stroke-width="0.6"/>
<circle cx="158.94" cy="267.09" r="1.5" fill="rgba(110,110,110,0.42)" stroke="rgba(85,85,85,0.5)" stroke-width="0.6"/>
<circle cx="160.44" cy="265.20" r="1.5" fill="rgba(110,110,110,0.42)" stroke="rgba(85,85,85,0.5)" stroke-width="0.6"/>
<circle cx="159.49" cy="257.52" r="1.5" fill="rgba(110,110,110,0.42)" stroke="rgba(85,85,85,0.5)" stroke-width="0.6"/>
<circle cx="166.75" cy="267.47" r="1.5" fill="rgba(110,110,110,0.42)" stroke="rgba(85,85,85,0.5)" stroke-width="0.6"/>
<circle cx="159.35" cy="263.31" r="1.5" fill="rgba(110,110,110,0.42)" stroke="rgba(85,85,85,0.5)" stroke-width="0.6"/>
<circle cx="158.25" cy="263.13" r="1.5" fill="rgba(110,110,110,0.42)" stroke="rgba(85,85,85,0.5)" stroke-width="0.6"/>
<circle cx="167.00" cy="263.31" r="1.5" fill="rgba(110,110,110,0.42)" stroke="rgba(85,85,85,0.5)" stroke-width="0.6"/>
<circle cx="164.41" cy="256.24" r="1.5" fill="rgba(110,110,110,0.42)" stroke="rgba(85,85,85,0.5)" stroke-width="0.6"/>
<circle cx="161.37" cy="265.87" r="1.5" fill="rgba(110,110,110,0.42)" stroke="rgba(85,85,85,0.5)" stroke-width="0.6"/>
<circle cx="165.10" cy="266.56" r="1.5" fill="rgba(110,110,110,0.42)" stroke="rgba(85,85,85,0.5)" stroke-width="0.6"/>
<circle cx="165.17" cy="263.26" r="1.5" fill="rgba(110,110,110,0.42)" stroke="rgba(85,85,85,0.5)" stroke-width="0.6"/>
<circle cx="160.05" cy="265.32" r="1.5" fill="rgba(110,110,110,0.42)" stroke="rgba(85,85,85,0.5)" stroke-width="0.6"/>
<circle cx="167.06" cy="258.07" r="1.5" fill="rgba(110,110,110,0.42)" stroke="rgba(85,85,85,0.5)" stroke-width="0.6"/>
<circle cx="165.42" cy="256.67" r="1.5" fill="rgba(110,110,110,0.42)" stroke="rgba(85,85,85,0.5)" stroke-width="0.6"/>
<circle cx="164.81" cy="257.86" r="1.5" fill="rgba(110,110,110,0.42)" stroke="rgba(85,85,85,0.5)" stroke-width="0.6"/>
<circle cx="162.76" cy="266.13" r="1.5" fill="rgba(110,110,110,0.42)" stroke="rgba(85,85,85,0.5)" stroke-width="0.6"/>
<circle cx="158.27" cy="265.09" r="1.5" fill="rgba(110,110,110,0.42)" stroke="rgba(85,85,85,0.5)" stroke-width="0.6"/>
<circle cx="160.57" cy="267.44" r="1.5" fill="rgba(110,110,110,0.42)" stroke="rgba(85,85,85,0.5)" stroke-width="0.6"/>
<circle cx="164.37" cy="265.89" r="1.5" fill="rgba(110,110,110,0.42)" stroke="rgba(85,85,85,0.5)" stroke-width="0.6"/>
<circle cx="162.11" cy="249.70" r="1.5" fill="rgba(110,110,110,0.42)" stroke="rgba(85,85,85,0.5)" stroke-width="0.6"/>
<circle cx="167.09" cy="251.81" r="1.5" fill="rgba(110,110,110,0.42)" stroke="rgba(85,85,85,0.5)" stroke-width="0.6"/>
<circle cx="161.35" cy="249.89" r="1.5" fill="rgba(110,110,110,0.42)" stroke="rgba(85,85,85,0.5)" stroke-width="0.6"/>
<circle cx="160.09" cy="266.18" r="1.5" fill="rgba(110,110,110,0.42)" stroke="rgba(85,85,85,0.5)" stroke-width="0.6"/>
<circle cx="159.88" cy="266.35" r="1.5" fill="rgba(110,110,110,0.42)" stroke="rgba(85,85,85,0.5)" stroke-width="0.6"/>
<circle cx="166.28" cy="262.01" r="1.5" fill="rgba(110,110,110,0.42)" stroke="rgba(85,85,85,0.5)" stroke-width="0.6"/>
<circle cx="162.41" cy="257.12" r="1.5" fill="rgba(110,110,110,0.42)" stroke="rgba(85,85,85,0.5)" stroke-width="0.6"/>
<circle cx="165.36" cy="261.56" r="1.5" fill="rgba(110,110,110,0.42)" stroke="rgba(85,85,85,0.5)" stroke-width="0.6"/>
<circle cx="164.08" cy="267.09" r="1.5" fill="rgba(110,110,110,0.42)" stroke="rgba(85,85,85,0.5)" stroke-width="0.6"/>
<circle cx="165.20" cy="253.87" r="1.5" fill="rgba(110,110,110,0.42)" stroke="rgba(85,85,85,0.5)" stroke-width="0.6"/>
<circle cx="162.40" cy="259.68" r="1.5" fill="rgba(110,110,110,0.42)" stroke="rgba(85,85,85,0.5)" stroke-width="0.6"/>
<circle cx="165.26" cy="266.48" r="1.5" fill="rgba(110,110,110,0.42)" stroke="rgba(85,85,85,0.5)" stroke-width="0.6"/>
<circle cx="165.37" cy="265.29" r="1.5" fill="rgba(110,110,110,0.42)" stroke="rgba(85,85,85,0.5)" stroke-width="0.6"/>
<circle cx="161.64" cy="247.25" r="1.5" fill="rgba(110,110,110,0.42)" stroke="rgba(85,85,85,0.5)" stroke-width="0.6"/>
<circle cx="166.71" cy="264.67" r="1.5" fill="rgba(110,110,110,0.42)" stroke="rgba(85,85,85,0.5)" stroke-width="0.6"/>
<circle cx="159.56" cy="260.23" r="1.5" fill="rgba(110,110,110,0.42)" stroke="rgba(85,85,85,0.5)" stroke-width="0.6"/>
<circle cx="159.39" cy="266.82" r="1.5" fill="rgba(110,110,110,0.42)" stroke="rgba(85,85,85,0.5)" stroke-width="0.6"/>
<circle cx="165.42" cy="254.17" r="1.5" fill="rgba(110,110,110,0.42)" stroke="rgba(85,85,85,0.5)" stroke-width="0.6"/>
<circle cx="165.60" cy="266.70" r="1.5" fill="rgba(110,110,110,0.42)" stroke="rgba(85,85,85,0.5)" stroke-width="0.6"/>
<circle cx="164.05" cy="245.48" r="1.5" fill="rgba(110,110,110,0.42)" stroke="rgba(85,85,85,0.5)" stroke-width="0.6"/>
<circle cx="163.05" cy="265.14" r="1.5" fill="rgba(110,110,110,0.42)" stroke="rgba(85,85,85,0.5)" stroke-width="0.6"/>
<circle cx="158.13" cy="266.80" r="1.5" fill="rgba(110,110,110,0.42)" stroke="rgba(85,85,85,0.5)" stroke-width="0.6"/>
<circle cx="163.98" cy="247.41" r="1.5" fill="rgba(110,110,110,0.42)" stroke="rgba(85,85,85,0.5)" stroke-width="0.6"/>
<circle cx="166.59" cy="263.33" r="1.5" fill="rgba(110,110,110,0.42)" stroke="rgba(85,85,85,0.5)" stroke-width="0.6"/>
<circle cx="166.02" cy="264.35" r="1.5" fill="rgba(110,110,110,0.42)" stroke="rgba(85,85,85,0.5)" stroke-width="0.6"/>
<circle cx="159.94" cy="257.61" r="1.5" fill="rgba(110,110,110,0.42)" stroke="rgba(85,85,85,0.5)" stroke-width="0.6"/>
<circle cx="160.70" cy="265.94" r="1.5" fill="rgba(110,110,110,0.42)" stroke="rgba(85,85,85,0.5)" stroke-width="0.6"/>
<circle cx="163.40" cy="266.03" r="1.5" fill="rgba(110,110,110,0.42)" stroke="rgba(85,85,85,0.5)" stroke-width="0.6"/>
<circle cx="161.85" cy="265.89" r="1.5" fill="rgba(110,110,110,0.42)" stroke="rgba(85,85,85,0.5)" stroke-width="0.6"/>
<circle cx="166.37" cy="266.80" r="1.5" fill="rgba(110,110,110,0.42)" stroke="rgba(85,85,85,0.5)" stroke-width="0.6"/>
<circle cx="162.22" cy="265.11" r="1.5" fill="rgba(110,110,110,0.42)" stroke="rgba(85,85,85,0.5)" stroke-width="0.6"/>
<circle cx="166.32" cy="262.60" r="1.5" fill="rgba(110,110,110,0.42)" stroke="rgba(85,85,85,0.5)" stroke-width="0.6"/>
<circle cx="166.44" cy="264.48" r="1.5" fill="rgba(110,110,110,0.42)" stroke="rgba(85,85,85,0.5)" stroke-width="0.6"/>
<circle cx="162.89" cy="263.62" r="1.5" fill="rgba(110,110,110,0.42)" stroke="rgba(85,85,85,0.5)" stroke-width="0.6"/>
<circle cx="158.17" cy="263.37" r="1.5" fill="rgba(110,110,110,0.42)" stroke="rgba(85,85,85,0.5)" stroke-width="0.6"/>
<circle cx="159.68" cy="264.29" r="1.5" fill="rgba(110,110,110,0.42)" stroke="rgba(85,85,85,0.5)" stroke-width="0.6"/>
<circle cx="165.35" cy="267.58" r="1.5" fill="rgba(110,110,110,0.42)" stroke="rgba(85,85,85,0.5)" stroke-width="0.6"/>
<circle cx="162.36" cy="266.52" r="1.5" fill="rgba(110,110,110,0.42)" stroke="rgba(85,85,85,0.5)" stroke-width="0.6"/>
<circle cx="163.12" cy="260.22" r="1.5" fill="rgba(110,110,110,0.42)" stroke="rgba(85,85,85,0.5)" stroke-width="0.6"/>
<circle cx="162.77" cy="265.35" r="1.5" fill="rgba(110,110,110,0.42)" stroke="rgba(85,85,85,0.5)" stroke-width="0.6"/>
<circle cx="165.22" cy="262.97" r="1.5" fill="rgba(110,110,110,0.42)" stroke="rgba(85,85,85,0.5)" stroke-width="0.6"/>
<circle cx="163.15" cy="266.96" r="1.5" fill="rgba(110,110,110,0.42)" stroke="rgba(85,85,85,0.5)" stroke-width="0.6"/>
<circle cx="160.55" cy="265.97" r="1.5" fill="rgba(110,110,110,0.42)" stroke="rgba(85,85,85,0.5)" stroke-width="0.6"/>
<circle cx="162.67" cy="259.15" r="1.5" fill="rgba(110,110,110,0.42)" stroke="rgba(85,85,85,0.5)" stroke-width="0.6"/>
<circle cx="164.99" cy="262.89" r="1.5" fill="rgba(110,110,110,0.42)" stroke="rgba(85,85,85,0.5)" stroke-width="0.6"/>
<circle cx="162.08" cy="253.69" r="1.5" fill="rgba(110,110,110,0.42)" stroke="rgba(85,85,85,0.5)" stroke-width="0.6"/>
<circle cx="162.65" cy="262.19" r="1.5" fill="rgba(110,110,110,0.42)" stroke="rgba(85,85,85,0.5)" stroke-width="0.6"/>
<circle cx="164.37" cy="263.50" r="1.5" fill="rgba(110,110,110,0.42)" stroke="rgba(85,85,85,0.5)" stroke-width="0.6"/>
<circle cx="162.91" cy="264.16" r="1.5" fill="rgba(110,110,110,0.42)" stroke="rgba(85,85,85,0.5)" stroke-width="0.6"/>
<circle cx="166.66" cy="263.89" r="1.5" fill="rgba(110,110,110,0.42)" stroke="rgba(85,85,85,0.5)" stroke-width="0.6"/>
<circle cx="166.06" cy="260.74" r="1.5" fill="rgba(110,110,110,0.42)" stroke="rgba(85,85,85,0.5)" stroke-width="0.6"/>
<circle cx="160.39" cy="251.33" r="1.5" fill="rgba(110,110,110,0.42)" stroke="rgba(85,85,85,0.5)" stroke-width="0.6"/>
<circle cx="166.68" cy="262.92" r="1.5" fill="rgba(110,110,110,0.42)" stroke="rgba(85,85,85,0.5)" stroke-width="0.6"/>
<circle cx="159.26" cy="257.14" r="1.5" fill="rgba(110,110,110,0.42)" stroke="rgba(85,85,85,0.5)" stroke-width="0.6"/>
<circle cx="162.07" cy="266.86" r="1.5" fill="rgba(110,110,110,0.42)" stroke="rgba(85,85,85,0.5)" stroke-width="0.6"/>
<circle cx="160.21" cy="267.17" r="1.5" fill="rgba(110,110,110,0.42)" stroke="rgba(85,85,85,0.5)" stroke-width="0.6"/>
<circle cx="164.16" cy="267.17" r="1.5" fill="rgba(110,110,110,0.42)" stroke="rgba(85,85,85,0.5)" stroke-width="0.6"/>
<circle cx="166.25" cy="258.85" r="1.5" fill="rgba(110,110,110,0.42)" stroke="rgba(85,85,85,0.5)" stroke-width="0.6"/>
<circle cx="164.59" cy="266.64" r="1.5" fill="rgba(110,110,110,0.42)" stroke="rgba(85,85,85,0.5)" stroke-width="0.6"/>
<circle cx="159.32" cy="261.44" r="1.5" fill="rgba(110,110,110,0.42)" stroke="rgba(85,85,85,0.5)" stroke-width="0.6"/>
<circle cx="166.90" cy="255.36" r="1.5" fill="rgba(110,110,110,0.42)" stroke="rgba(85,85,85,0.5)" stroke-width="0.6"/>
<circle cx="166.76" cy="266.18" r="1.5" fill="rgba(110,110,110,0.42)" stroke="rgba(85,85,85,0.5)" stroke-width="0.6"/>
<circle cx="162.48" cy="264.70" r="1.5" fill="rgba(110,110,110,0.42)" stroke="rgba(85,85,85,0.5)" stroke-width="0.6"/>
<circle cx="165.66" cy="245.48" r="1.5" fill="rgba(110,110,110,0.42)" stroke="rgba(85,85,85,0.5)" stroke-width="0.6"/>
<circle cx="161.97" cy="266.59" r="1.5" fill="rgba(110,110,110,0.42)" stroke="rgba(85,85,85,0.5)" stroke-width="0.6"/>
<circle cx="161.12" cy="263.46" r="1.5" fill="rgba(110,110,110,0.42)" stroke="rgba(85,85,85,0.5)" stroke-width="0.6"/>
<circle cx="160.93" cy="266.36" r="1.5" fill="rgba(110,110,110,0.42)" stroke="rgba(85,85,85,0.5)" stroke-width="0.6"/>
<circle cx="158.18" cy="260.29" r="1.5" fill="rgba(110,110,110,0.42)" stroke="rgba(85,85,85,0.5)" stroke-width="0.6"/>
<circle cx="162.05" cy="262.99" r="1.5" fill="rgba(110,110,110,0.42)" stroke="rgba(85,85,85,0.5)" stroke-width="0.6"/>
<circle cx="161.05" cy="267.50" r="1.5" fill="rgba(110,110,110,0.42)" stroke="rgba(85,85,85,0.5)" stroke-width="0.6"/>
<circle cx="162.71" cy="262.02" r="1.5" fill="rgba(110,110,110,0.42)" stroke="rgba(85,85,85,0.5)" stroke-width="0.6"/>
<circle cx="167.06" cy="267.22" r="1.5" fill="rgba(110,110,110,0.42)" stroke="rgba(85,85,85,0.5)" stroke-width="0.6"/>
<circle cx="166.94" cy="258.73" r="1.5" fill="rgba(110,110,110,0.42)" stroke="rgba(85,85,85,0.5)" stroke-width="0.6"/>
<circle cx="160.44" cy="266.97" r="1.5" fill="rgba(110,110,110,0.42)" stroke="rgba(85,85,85,0.5)" stroke-width="0.6"/>
<circle cx="165.17" cy="267.37" r="1.5" fill="rgba(110,110,110,0.42)" stroke="rgba(85,85,85,0.5)" stroke-width="0.6"/>
<circle cx="159.19" cy="265.80" r="1.5" fill="rgba(110,110,110,0.42)" stroke="rgba(85,85,85,0.5)" stroke-width="0.6"/>
<circle cx="166.39" cy="264.47" r="1.5" fill="rgba(110,110,110,0.42)" stroke="rgba(85,85,85,0.5)" stroke-width="0.6"/>
<circle cx="160.38" cy="257.84" r="1.5" fill="rgba(110,110,110,0.42)" stroke="rgba(85,85,85,0.5)" stroke-width="0.6"/>
<circle cx="166.46" cy="266.68" r="1.5" fill="rgba(110,110,110,0.42)" stroke="rgba(85,85,85,0.5)" stroke-width="0.6"/>
<circle cx="164.44" cy="262.77" r="1.5" fill="rgba(110,110,110,0.42)" stroke="rgba(85,85,85,0.5)" stroke-width="0.6"/>
<circle cx="158.53" cy="267.06" r="1.5" fill="rgba(110,110,110,0.42)" stroke="rgba(85,85,85,0.5)" stroke-width="0.6"/>
<circle cx="161.91" cy="260.95" r="1.5" fill="rgba(110,110,110,0.42)" stroke="rgba(85,85,85,0.5)" stroke-width="0.6"/>
<circle cx="166.63" cy="267.17" r="1.5" fill="rgba(110,110,110,0.42)" stroke="rgba(85,85,85,0.5)" stroke-width="0.6"/>
<circle cx="165.37" cy="261.85" r="1.5" fill="rgba(110,110,110,0.42)" stroke="rgba(85,85,85,0.5)" stroke-width="0.6"/>
<circle cx="165.88" cy="267.10" r="1.5" fill="rgba(110,110,110,0.42)" stroke="rgba(85,85,85,0.5)" stroke-width="0.6"/>
<circle cx="165.94" cy="267.21" r="1.5" fill="rgba(110,110,110,0.42)" stroke="rgba(85,85,85,0.5)" stroke-width="0.6"/>
<circle cx="161.12" cy="264.15" r="1.5" fill="rgba(110,110,110,0.42)" stroke="rgba(85,85,85,0.5)" stroke-width="0.6"/>
<circle cx="166.53" cy="263.00" r="1.5" fill="rgba(110,110,110,0.42)" stroke="rgba(85,85,85,0.5)" stroke-width="0.6"/>
<circle cx="159.19" cy="265.82" r="1.5" fill="rgba(110,110,110,0.42)" stroke="rgba(85,85,85,0.5)" stroke-width="0.6"/>
<circle cx="160.19" cy="263.33" r="1.5" fill="rgba(110,110,110,0.42)" stroke="rgba(85,85,85,0.5)" stroke-width="0.6"/>
<circle cx="159.49" cy="266.94" r="1.5" fill="rgba(110,110,110,0.42)" stroke="rgba(85,85,85,0.5)" stroke-width="0.6"/>
<circle cx="159.86" cy="267.30" r="1.5" fill="rgba(110,110,110,0.42)" stroke="rgba(85,85,85,0.5)" stroke-width="0.6"/>
<circle cx="160.81" cy="265.46" r="1.5" fill="rgba(110,110,110,0.42)" stroke="rgba(85,85,85,0.5)" stroke-width="0.6"/>
<circle cx="160.67" cy="259.46" r="1.5" fill="rgba(110,110,110,0.42)" stroke="rgba(85,85,85,0.5)" stroke-width="0.6"/>
<circle cx="159.64" cy="263.64" r="1.5" fill="rgba(110,110,110,0.42)" stroke="rgba(85,85,85,0.5)" stroke-width="0.6"/>
<circle cx="158.17" cy="265.17" r="1.5" fill="rgba(110,110,110,0.42)" stroke="rgba(85,85,85,0.5)" stroke-width="0.6"/>
<circle cx="158.14" cy="265.95" r="1.5" fill="rgba(110,110,110,0.42)" stroke="rgba(85,85,85,0.5)" stroke-width="0.6"/>
<circle cx="163.07" cy="260.06" r="1.5" fill="rgba(110,110,110,0.42)" stroke="rgba(85,85,85,0.5)" stroke-width="0.6"/>
<circle cx="162.37" cy="266.40" r="1.5" fill="rgba(110,110,110,0.42)" stroke="rgba(85,85,85,0.5)" stroke-width="0.6"/>
<circle cx="158.98" cy="252.02" r="1.5" fill="rgba(110,110,110,0.42)" stroke="rgba(85,85,85,0.5)" stroke-width="0.6"/>
<circle cx="161.98" cy="257.84" r="1.5" fill="rgba(110,110,110,0.42)" stroke="rgba(85,85,85,0.5)" stroke-width="0.6"/>
<circle cx="165.68" cy="263.70" r="1.5" fill="rgba(110,110,110,0.42)" stroke="rgba(85,85,85,0.5)" stroke-width="0.6"/>
<circle cx="162.66" cy="264.75" r="1.5" fill="rgba(110,110,110,0.42)" stroke="rgba(85,85,85,0.5)" stroke-width="0.6"/>
<circle cx="167.04" cy="260.95" r="1.5" fill="rgba(110,110,110,0.42)" stroke="rgba(85,85,85,0.5)" stroke-width="0.6"/>
<circle cx="165.66" cy="265.20" r="1.5" fill="rgba(110,110,110,0.42)" stroke="rgba(85,85,85,0.5)" stroke-width="0.6"/>
<circle cx="163.85" cy="260.60" r="1.5" fill="rgba(110,110,110,0.42)" stroke="rgba(85,85,85,0.5)" stroke-width="0.6"/>
<circle cx="161.20" cy="264.64" r="1.5" fill="rgba(110,110,110,0.42)" stroke="rgba(85,85,85,0.5)" stroke-width="0.6"/>
<circle cx="159.19" cy="267.28" r="1.5" fill="rgba(110,110,110,0.42)" stroke="rgba(85,85,85,0.5)" stroke-width="0.6"/>
<circle cx="164.82" cy="267.18" r="1.5" fill="rgba(110,110,110,0.42)" stroke="rgba(85,85,85,0.5)" stroke-width="0.6"/>
<circle cx="159.50" cy="265.91" r="1.5" fill="rgba(110,110,110,0.42)" stroke="rgba(85,85,85,0.5)" stroke-width="0.6"/>
<circle cx="165.74" cy="267.10" r="1.5" fill="rgba(110,110,110,0.42)" stroke="rgba(85,85,85,0.5)" stroke-width="0.6"/>
<circle cx="164.17" cy="255.93" r="1.5" fill="rgba(110,110,110,0.42)" stroke="rgba(85,85,85,0.5)" stroke-width="0.6"/>
<circle cx="160.23" cy="265.71" r="1.5" fill="rgba(110,110,110,0.42)" stroke="rgba(85,85,85,0.5)" stroke-width="0.6"/>
<circle cx="162.23" cy="265.62" r="1.5" fill="rgba(110,110,110,0.42)" stroke="rgba(85,85,85,0.5)" stroke-width="0.6"/>
<circle cx="162.10" cy="266.62" r="1.5" fill="rgba(110,110,110,0.42)" stroke="rgba(85,85,85,0.5)" stroke-width="0.6"/>
<circle cx="166.85" cy="265.86" r="1.5" fill="rgba(110,110,110,0.42)" stroke="rgba(85,85,85,0.5)" stroke-width="0.6"/>
<circle cx="163.03" cy="247.06" r="1.5" fill="rgba(110,110,110,0.42)" stroke="rgba(85,85,85,0.5)" stroke-width="0.6"/>
<circle cx="166.88" cy="266.00" r="1.5" fill="rgba(110,110,110,0.42)" stroke="rgba(85,85,85,0.5)" stroke-width="0.6"/>
<circle cx="161.28" cy="265.49" r="1.5" fill="rgba(110,110,110,0.42)" stroke="rgba(85,85,85,0.5)" stroke-width="0.6"/>
<circle cx="161.51" cy="267.59" r="1.5" fill="rgba(110,110,110,0.42)" stroke="rgba(85,85,85,0.5)" stroke-width="0.6"/>
<circle cx="162.63" cy="263.92" r="1.5" fill="rgba(110,110,110,0.42)" stroke="rgba(85,85,85,0.5)" stroke-width="0.6"/>
<circle cx="162.64" cy="266.32" r="1.5" fill="rgba(110,110,110,0.42)" stroke="rgba(85,85,85,0.5)" stroke-width="0.6"/>
<circle cx="160.43" cy="267.57" r="1.5" fill="rgba(110,110,110,0.42)" stroke="rgba(85,85,85,0.5)" stroke-width="0.6"/>
<circle cx="161.68" cy="267.06" r="1.5" fill="rgba(110,110,110,0.42)" stroke="rgba(85,85,85,0.5)" stroke-width="0.6"/>
<circle cx="158.21" cy="267.36" r="1.5" fill="rgba(110,110,110,0.42)" stroke="rgba(85,85,85,0.5)" stroke-width="0.6"/>
<circle cx="160.14" cy="265.53" r="1.5" fill="rgba(110,110,110,0.42)" stroke="rgba(85,85,85,0.5)" stroke-width="0.6"/>
<circle cx="162.87" cy="262.57" r="1.5" fill="rgba(110,110,110,0.42)" stroke="rgba(85,85,85,0.5)" stroke-width="0.6"/>
<circle cx="164.05" cy="259.67" r="1.5" fill="rgba(110,110,110,0.42)" stroke="rgba(85,85,85,0.5)" stroke-width="0.6"/>
<circle cx="166.09" cy="260.41" r="1.5" fill="rgba(110,110,110,0.42)" stroke="rgba(85,85,85,0.5)" stroke-width="0.6"/>
<circle cx="161.00" cy="264.78" r="1.5" fill="rgba(110,110,110,0.42)" stroke="rgba(85,85,85,0.5)" stroke-width="0.6"/>
<circle cx="159.38" cy="245.48" r="1.5" fill="rgba(110,110,110,0.42)" stroke="rgba(85,85,85,0.5)" stroke-width="0.6"/>
<circle cx="163.92" cy="260.25" r="1.5" fill="rgba(110,110,110,0.42)" stroke="rgba(85,85,85,0.5)" stroke-width="0.6"/>
<circle cx="165.68" cy="267.34" r="1.5" fill="rgba(110,110,110,0.42)" stroke="rgba(85,85,85,0.5)" stroke-width="0.6"/>
<circle cx="163.77" cy="254.90" r="1.5" fill="rgba(110,110,110,0.42)" stroke="rgba(85,85,85,0.5)" stroke-width="0.6"/>
<circle cx="165.47" cy="260.04" r="1.5" fill="rgba(110,110,110,0.42)" stroke="rgba(85,85,85,0.5)" stroke-width="0.6"/>
<circle cx="162.82" cy="266.74" r="1.5" fill="rgba(110,110,110,0.42)" stroke="rgba(85,85,85,0.5)" stroke-width="0.6"/>
<circle cx="165.68" cy="263.59" r="1.5" fill="rgba(110,110,110,0.42)" stroke="rgba(85,85,85,0.5)" stroke-width="0.6"/>
<circle cx="165.60" cy="258.28" r="1.5" fill="rgba(110,110,110,0.42)" stroke="rgba(85,85,85,0.5)" stroke-width="0.6"/>
<circle cx="166.21" cy="262.59" r="1.5" fill="rgba(110,110,110,0.42)" stroke="rgba(85,85,85,0.5)" stroke-width="0.6"/>
<circle cx="164.38" cy="261.04" r="1.5" fill="rgba(110,110,110,0.42)" stroke="rgba(85,85,85,0.5)" stroke-width="0.6"/>
<circle cx="158.29" cy="266.11" r="1.5" fill="rgba(110,110,110,0.42)" stroke="rgba(85,85,85,0.5)" stroke-width="0.6"/>
<circle cx="161.32" cy="266.78" r="1.5" fill="rgba(110,110,110,0.42)" stroke="rgba(85,85,85,0.5)" stroke-width="0.6"/>
<circle cx="165.69" cy="266.97" r="1.5" fill="rgba(110,110,110,0.42)" stroke="rgba(85,85,85,0.5)" stroke-width="0.6"/>
<circle cx="163.78" cy="262.93" r="1.5" fill="rgba(110,110,110,0.42)" stroke="rgba(85,85,85,0.5)" stroke-width="0.6"/>
<circle cx="164.26" cy="261.98" r="1.5" fill="rgba(110,110,110,0.42)" stroke="rgba(85,85,85,0.5)" stroke-width="0.6"/>
<circle cx="158.03" cy="263.76" r="1.5" fill="rgba(110,110,110,0.42)" stroke="rgba(85,85,85,0.5)" stroke-width="0.6"/>
<circle cx="164.88" cy="258.48" r="1.5" fill="rgba(110,110,110,0.42)" stroke="rgba(85,85,85,0.5)" stroke-width="0.6"/>
<circle cx="162.92" cy="263.61" r="1.5" fill="rgba(110,110,110,0.42)" stroke="rgba(85,85,85,0.5)" stroke-width="0.6"/>
<circle cx="158.61" cy="261.45" r="1.5" fill="rgba(110,110,110,0.42)" stroke="rgba(85,85,85,0.5)" stroke-width="0.6"/>
<circle cx="160.32" cy="259.98" r="1.5" fill="rgba(110,110,110,0.42)" stroke="rgba(85,85,85,0.5)" stroke-width="0.6"/>
<circle cx="160.44" cy="267.16" r="1.5" fill="rgba(110,110,110,0.42)" stroke="rgba(85,85,85,0.5)" stroke-width="0.6"/>
<circle cx="159.89" cy="260.14" r="1.5" fill="rgba(110,110,110,0.42)" stroke="rgba(85,85,85,0.5)" stroke-width="0.6"/>
<circle cx="166.98" cy="259.91" r="1.5" fill="rgba(110,110,110,0.42)" stroke="rgba(85,85,85,0.5)" stroke-width="0.6"/>
<circle cx="161.52" cy="263.71" r="1.5" fill="rgba(110,110,110,0.42)" stroke="rgba(85,85,85,0.5)" stroke-width="0.6"/>
<circle cx="164.29" cy="263.88" r="1.5" fill="rgba(110,110,110,0.42)" stroke="rgba(85,85,85,0.5)" stroke-width="0.6"/>
<circle cx="163.68" cy="259.28" r="1.5" fill="rgba(110,110,110,0.42)" stroke="rgba(85,85,85,0.5)" stroke-width="0.6"/>
<circle cx="158.71" cy="261.72" r="1.5" fill="rgba(110,110,110,0.42)" stroke="rgba(85,85,85,0.5)" stroke-width="0.6"/>
<circle cx="160.34" cy="266.69" r="1.5" fill="rgba(110,110,110,0.42)" stroke="rgba(85,85,85,0.5)" stroke-width="0.6"/>
<circle cx="160.80" cy="259.84" r="1.5" fill="rgba(110,110,110,0.42)" stroke="rgba(85,85,85,0.5)" stroke-width="0.6"/>
<circle cx="158.11" cy="262.81" r="1.5" fill="rgba(110,110,110,0.42)" stroke="rgba(85,85,85,0.5)" stroke-width="0.6"/>
<circle cx="160.47" cy="267.24" r="1.5" fill="rgba(110,110,110,0.42)" stroke="rgba(85,85,85,0.5)" stroke-width="0.6"/>
<circle cx="164.37" cy="261.24" r="1.5" fill="rgba(110,110,110,0.42)" stroke="rgba(85,85,85,0.5)" stroke-width="0.6"/>
<circle cx="160.68" cy="261.17" r="1.5" fill="rgba(110,110,110,0.42)" stroke="rgba(85,85,85,0.5)" stroke-width="0.6"/>
<circle cx="162.27" cy="263.45" r="1.5" fill="rgba(110,110,110,0.42)" stroke="rgba(85,85,85,0.5)" stroke-width="0.6"/>
<circle cx="159.09" cy="264.01" r="1.5" fill="rgba(110,110,110,0.42)" stroke="rgba(85,85,85,0.5)" stroke-width="0.6"/>
<circle cx="159.83" cy="254.80" r="1.5" fill="rgba(110,110,110,0.42)" stroke="rgba(85,85,85,0.5)" stroke-width="0.6"/>
<circle cx="166.61" cy="245.78" r="1.5" fill="rgba(110,110,110,0.42)" stroke="rgba(85,85,85,0.5)" stroke-width="0.6"/>
<circle cx="162.22" cy="267.50" r="1.5" fill="rgba(110,110,110,0.42)" stroke="rgba(85,85,85,0.5)" stroke-width="0.6"/>
<circle cx="166.91" cy="257.81" r="1.5" fill="rgba(110,110,110,0.42)" stroke="rgba(85,85,85,0.5)" stroke-width="0.6"/>
<circle cx="160.47" cy="264.19" r="1.5" fill="rgba(110,110,110,0.42)" stroke="rgba(85,85,85,0.5)" stroke-width="0.6"/>
<circle cx="166.70" cy="266.26" r="1.5" fill="rgba(110,110,110,0.42)" stroke="rgba(85,85,85,0.5)" stroke-width="0.6"/>
<circle cx="163.35" cy="266.25" r="1.5" fill="rgba(110,110,110,0.42)" stroke="rgba(85,85,85,0.5)" stroke-width="0.6"/>
<circle cx="162.82" cy="266.73" r="1.5" fill="rgba(110,110,110,0.42)" stroke="rgba(85,85,85,0.5)" stroke-width="0.6"/>
<circle cx="159.22" cy="250.17" r="1.5" fill="rgba(110,110,110,0.42)" stroke="rgba(85,85,85,0.5)" stroke-width="0.6"/>
<circle cx="162.68" cy="257.80" r="1.5" fill="rgba(110,110,110,0.42)" stroke="rgba(85,85,85,0.5)" stroke-width="0.6"/>
<circle cx="164.47" cy="255.16" r="1.5" fill="rgba(110,110,110,0.42)" stroke="rgba(85,85,85,0.5)" stroke-width="0.6"/>
<circle cx="166.26" cy="266.10" r="1.5" fill="rgba(110,110,110,0.42)" stroke="rgba(85,85,85,0.5)" stroke-width="0.6"/>
<circle cx="158.23" cy="263.80" r="1.5" fill="rgba(110,110,110,0.42)" stroke="rgba(85,85,85,0.5)" stroke-width="0.6"/>
<circle cx="162.52" cy="267.58" r="1.5" fill="rgba(110,110,110,0.42)" stroke="rgba(85,85,85,0.5)" stroke-width="0.6"/>
<circle cx="160.78" cy="264.18" r="1.5" fill="rgba(110,110,110,0.42)" stroke="rgba(85,85,85,0.5)" stroke-width="0.6"/>
<circle cx="161.16" cy="266.73" r="1.5" fill="rgba(110,110,110,0.42)" stroke="rgba(85,85,85,0.5)" stroke-width="0.6"/>
<circle cx="165.73" cy="265.43" r="1.5" fill="rgba(110,110,110,0.42)" stroke="rgba(85,85,85,0.5)" stroke-width="0.6"/>
<circle cx="164.91" cy="267.59" r="1.5" fill="rgba(110,110,110,0.42)" stroke="rgba(85,85,85,0.5)" stroke-width="0.6"/>
<circle cx="159.10" cy="257.17" r="1.5" fill="rgba(110,110,110,0.42)" stroke="rgba(85,85,85,0.5)" stroke-width="0.6"/>
<circle cx="164.56" cy="252.70" r="1.5" fill="rgba(110,110,110,0.42)" stroke="rgba(85,85,85,0.5)" stroke-width="0.6"/>
<circle cx="160.67" cy="254.36" r="1.5" fill="rgba(110,110,110,0.42)" stroke="rgba(85,85,85,0.5)" stroke-width="0.6"/>
<circle cx="161.61" cy="264.94" r="1.5" fill="rgba(110,110,110,0.42)" stroke="rgba(85,85,85,0.5)" stroke-width="0.6"/>
<circle cx="163.42" cy="245.48" r="1.5" fill="rgba(110,110,110,0.42)" stroke="rgba(85,85,85,0.5)" stroke-width="0.6"/>
<circle cx="161.94" cy="265.05" r="1.5" fill="rgba(110,110,110,0.42)" stroke="rgba(85,85,85,0.5)" stroke-width="0.6"/>
<circle cx="158.44" cy="265.76" r="1.5" fill="rgba(110,110,110,0.42)" stroke="rgba(85,85,85,0.5)" stroke-width="0.6"/>
<circle cx="165.68" cy="266.99" r="1.5" fill="rgba(110,110,110,0.42)" stroke="rgba(85,85,85,0.5)" stroke-width="0.6"/>
<circle cx="166.61" cy="265.68" r="1.5" fill="rgba(110,110,110,0.42)" stroke="rgba(85,85,85,0.5)" stroke-width="0.6"/>
<circle cx="160.44" cy="265.96" r="1.5" fill="rgba(110,110,110,0.42)" stroke="rgba(85,85,85,0.5)" stroke-width="0.6"/>
<circle cx="159.75" cy="263.52" r="1.5" fill="rgba(110,110,110,0.42)" stroke="rgba(85,85,85,0.5)" stroke-width="0.6"/>
<circle cx="166.80" cy="264.93" r="1.5" fill="rgba(110,110,110,0.42)" stroke="rgba(85,85,85,0.5)" stroke-width="0.6"/>
<circle cx="165.47" cy="255.29" r="1.5" fill="rgba(110,110,110,0.42)" stroke="rgba(85,85,85,0.5)" stroke-width="0.6"/>
<circle cx="166.40" cy="261.91" r="1.5" fill="rgba(110,110,110,0.42)" stroke="rgba(85,85,85,0.5)" stroke-width="0.6"/>
<circle cx="163.05" cy="251.47" r="1.5" fill="rgba(110,110,110,0.42)" stroke="rgba(85,85,85,0.5)" stroke-width="0.6"/>
<circle cx="158.46" cy="260.34" r="1.5" fill="rgba(110,110,110,0.42)" stroke="rgba(85,85,85,0.5)" stroke-width="0.6"/>
<circle cx="162.15" cy="260.07" r="1.5" fill="rgba(110,110,110,0.42)" stroke="rgba(85,85,85,0.5)" stroke-width="0.6"/>
<circle cx="163.93" cy="259.62" r="1.5" fill="rgba(110,110,110,0.42)" stroke="rgba(85,85,85,0.5)" stroke-width="0.6"/>
<circle cx="158.45" cy="265.67" r="1.5" fill="rgba(110,110,110,0.42)" stroke="rgba(85,85,85,0.5)" stroke-width="0.6"/>
<circle cx="159.17" cy="252.67" r="1.5" fill="rgba(110,110,110,0.42)" stroke="rgba(85,85,85,0.5)" stroke-width="0.6"/>
<circle cx="161.16" cy="263.95" r="1.5" fill="rgba(110,110,110,0.42)" stroke="rgba(85,85,85,0.5)" stroke-width="0.6"/>
<circle cx="164.80" cy="265.58" r="1.5" fill="rgba(110,110,110,0.42)" stroke="rgba(85,85,85,0.5)" stroke-width="0.6"/>
<circle cx="160.39" cy="246.23" r="1.5" fill="rgba(110,110,110,0.42)" stroke="rgba(85,85,85,0.5)" stroke-width="0.6"/>
<circle cx="160.77" cy="261.51" r="1.5" fill="rgba(110,110,110,0.42)" stroke="rgba(85,85,85,0.5)" stroke-width="0.6"/>
<circle cx="161.63" cy="262.95" r="1.5" fill="rgba(110,110,110,0.42)" stroke="rgba(85,85,85,0.5)" stroke-width="0.6"/>
<circle cx="159.49" cy="266.55" r="1.5" fill="rgba(110,110,110,0.42)" stroke="rgba(85,85,85,0.5)" stroke-width="0.6"/>
<circle cx="166.33" cy="266.27" r="1.5" fill="rgba(110,110,110,0.42)" stroke="rgba(85,85,85,0.5)" stroke-width="0.6"/>
<circle cx="160.02" cy="263.68" r="1.5" fill="rgba(110,110,110,0.42)" stroke="rgba(85,85,85,0.5)" stroke-width="0.6"/>
<circle cx="167.17" cy="254.08" r="1.5" fill="rgba(110,110,110,0.42)" stroke="rgba(85,85,85,0.5)" stroke-width="0.6"/>
<circle cx="159.28" cy="264.19" r="1.5" fill="rgba(110,110,110,0.42)" stroke="rgba(85,85,85,0.5)" stroke-width="0.6"/>
<circle cx="158.83" cy="266.38" r="1.5" fill="rgba(110,110,110,0.42)" stroke="rgba(85,85,85,0.5)" stroke-width="0.6"/>
<circle cx="158.84" cy="265.21" r="1.5" fill="rgba(110,110,110,0.42)" stroke="rgba(85,85,85,0.5)" stroke-width="0.6"/>
<circle cx="160.38" cy="266.04" r="1.5" fill="rgba(110,110,110,0.42)" stroke="rgba(85,85,85,0.5)" stroke-width="0.6"/>
<circle cx="166.16" cy="262.79" r="1.5" fill="rgba(110,110,110,0.42)" stroke="rgba(85,85,85,0.5)" stroke-width="0.6"/>
<circle cx="161.80" cy="259.69" r="1.5" fill="rgba(110,110,110,0.42)" stroke="rgba(85,85,85,0.5)" stroke-width="0.6"/>
<circle cx="162.82" cy="264.55" r="1.5" fill="rgba(110,110,110,0.42)" stroke="rgba(85,85,85,0.5)" stroke-width="0.6"/>
<circle cx="161.11" cy="264.90" r="1.5" fill="rgba(110,110,110,0.42)" stroke="rgba(85,85,85,0.5)" stroke-width="0.6"/>
<circle cx="160.55" cy="267.23" r="1.5" fill="rgba(110,110,110,0.42)" stroke="rgba(85,85,85,0.5)" stroke-width="0.6"/>
<circle cx="159.16" cy="248.00" r="1.5" fill="rgba(110,110,110,0.42)" stroke="rgba(85,85,85,0.5)" stroke-width="0.6"/>
<circle cx="163.79" cy="263.60" r="1.5" fill="rgba(110,110,110,0.42)" stroke="rgba(85,85,85,0.5)" stroke-width="0.6"/>
<circle cx="159.99" cy="256.26" r="1.5" fill="rgba(110,110,110,0.42)" stroke="rgba(85,85,85,0.5)" stroke-width="0.6"/>
<circle cx="160.29" cy="265.80" r="1.5" fill="rgba(110,110,110,0.42)" stroke="rgba(85,85,85,0.5)" stroke-width="0.6"/>
<circle cx="162.10" cy="264.69" r="1.5" fill="rgba(110,110,110,0.42)" stroke="rgba(85,85,85,0.5)" stroke-width="0.6"/>
<circle cx="165.81" cy="250.03" r="1.5" fill="rgba(110,110,110,0.42)" stroke="rgba(85,85,85,0.5)" stroke-width="0.6"/>
<circle cx="158.20" cy="255.82" r="1.5" fill="rgba(110,110,110,0.42)" stroke="rgba(85,85,85,0.5)" stroke-width="0.6"/>
<circle cx="164.53" cy="267.41" r="1.5" fill="rgba(110,110,110,0.42)" stroke="rgba(85,85,85,0.5)" stroke-width="0.6"/>
<circle cx="162.35" cy="254.69" r="1.5" fill="rgba(110,110,110,0.42)" stroke="rgba(85,85,85,0.5)" stroke-width="0.6"/>
<circle cx="158.00" cy="262.55" r="1.5" fill="rgba(110,110,110,0.42)" stroke="rgba(85,85,85,0.5)" stroke-width="0.6"/>
<circle cx="166.53" cy="264.76" r="1.5" fill="rgba(110,110,110,0.42)" stroke="rgba(85,85,85,0.5)" stroke-width="0.6"/>
<circle cx="165.87" cy="257.63" r="1.5" fill="rgba(110,110,110,0.42)" stroke="rgba(85,85,85,0.5)" stroke-width="0.6"/>
<circle cx="160.29" cy="247.14" r="1.5" fill="rgba(110,110,110,0.42)" stroke="rgba(85,85,85,0.5)" stroke-width="0.6"/>
<circle cx="159.42" cy="266.94" r="1.5" fill="rgba(110,110,110,0.42)" stroke="rgba(85,85,85,0.5)" stroke-width="0.6"/>
<circle cx="164.28" cy="263.38" r="1.5" fill="rgba(110,110,110,0.42)" stroke="rgba(85,85,85,0.5)" stroke-width="0.6"/>
<circle cx="164.64" cy="251.39" r="1.5" fill="rgba(110,110,110,0.42)" stroke="rgba(85,85,85,0.5)" stroke-width="0.6"/>
<circle cx="165.04" cy="261.65" r="1.5" fill="rgba(110,110,110,0.42)" stroke="rgba(85,85,85,0.5)" stroke-width="0.6"/>
<circle cx="163.07" cy="264.11" r="1.5" fill="rgba(110,110,110,0.42)" stroke="rgba(85,85,85,0.5)" stroke-width="0.6"/>
<circle cx="165.20" cy="267.37" r="1.5" fill="rgba(110,110,110,0.42)" stroke="rgba(85,85,85,0.5)" stroke-width="0.6"/>
<circle cx="166.46" cy="266.09" r="1.5" fill="rgba(110,110,110,0.42)" stroke="rgba(85,85,85,0.5)" stroke-width="0.6"/>
<circle cx="160.79" cy="261.68" r="1.5" fill="rgba(110,110,110,0.42)" stroke="rgba(85,85,85,0.5)" stroke-width="0.6"/>
<circle cx="160.32" cy="266.82" r="1.5" fill="rgba(110,110,110,0.42)" stroke="rgba(85,85,85,0.5)" stroke-width="0.6"/>
<circle cx="164.43" cy="261.83" r="1.5" fill="rgba(110,110,110,0.42)" stroke="rgba(85,85,85,0.5)" stroke-width="0.6"/>
<circle cx="158.65" cy="266.92" r="1.5" fill="rgba(110,110,110,0.42)" stroke="rgba(85,85,85,0.5)" stroke-width="0.6"/>
<circle cx="163.36" cy="263.36" r="1.5" fill="rgba(110,110,110,0.42)" stroke="rgba(85,85,85,0.5)" stroke-width="0.6"/>
<circle cx="160.06" cy="264.80" r="1.5" fill="rgba(110,110,110,0.42)" stroke="rgba(85,85,85,0.5)" stroke-width="0.6"/>
<circle cx="158.10" cy="262.35" r="1.5" fill="rgba(110,110,110,0.42)" stroke="rgba(85,85,85,0.5)" stroke-width="0.6"/>
<circle cx="162.24" cy="265.55" r="1.5" fill="rgba(110,110,110,0.42)" stroke="rgba(85,85,85,0.5)" stroke-width="0.6"/>
<circle cx="163.93" cy="249.37" r="1.5" fill="rgba(110,110,110,0.42)" stroke="rgba(85,85,85,0.5)" stroke-width="0.6"/>
<circle cx="162.37" cy="255.31" r="1.5" fill="rgba(110,110,110,0.42)" stroke="rgba(85,85,85,0.5)" stroke-width="0.6"/>
<circle cx="160.27" cy="266.07" r="1.5" fill="rgba(110,110,110,0.42)" stroke="rgba(85,85,85,0.5)" stroke-width="0.6"/>
<circle cx="164.48" cy="249.13" r="1.5" fill="rgba(110,110,110,0.42)" stroke="rgba(85,85,85,0.5)" stroke-width="0.6"/>
<circle cx="158.20" cy="265.50" r="1.5" fill="rgba(110,110,110,0.42)" stroke="rgba(85,85,85,0.5)" stroke-width="0.6"/>
<circle cx="164.21" cy="263.66" r="1.5" fill="rgba(110,110,110,0.42)" stroke="rgba(85,85,85,0.5)" stroke-width="0.6"/>
<circle cx="160.37" cy="264.49" r="1.5" fill="rgba(110,110,110,0.42)" stroke="rgba(85,85,85,0.5)" stroke-width="0.6"/>
<circle cx="166.51" cy="261.32" r="1.5" fill="rgba(110,110,110,0.42)" stroke="rgba(85,85,85,0.5)" stroke-width="0.6"/>
<circle cx="158.31" cy="266.13" r="1.5" fill="rgba(110,110,110,0.42)" stroke="rgba(85,85,85,0.5)" stroke-width="0.6"/>
<circle cx="161.87" cy="265.24" r="1.5" fill="rgba(110,110,110,0.42)" stroke="rgba(85,85,85,0.5)" stroke-width="0.6"/>
<circle cx="159.82" cy="261.05" r="1.5" fill="rgba(110,110,110,0.42)" stroke="rgba(85,85,85,0.5)" stroke-width="0.6"/>
<circle cx="164.80" cy="258.49" r="1.5" fill="rgba(110,110,110,0.42)" stroke="rgba(85,85,85,0.5)" stroke-width="0.6"/>
<circle cx="159.89" cy="263.59" r="1.5" fill="rgba(110,110,110,0.42)" stroke="rgba(85,85,85,0.5)" stroke-width="0.6"/>
<circle cx="237.20" cy="127.30" r="1.5" fill="rgba(110,110,110,0.42)" stroke="rgba(85,85,85,0.5)" stroke-width="0.6"/>
<circle cx="239.50" cy="131.30" r="1.5" fill="rgba(110,110,110,0.42)" stroke="rgba(85,85,85,0.5)" stroke-width="0.6"/>
<circle cx="245.30" cy="128.50" r="1.5" fill="rgba(110,110,110,0.42)" stroke="rgba(85,85,85,0.5)" stroke-width="0.6"/>
<circle cx="241.90" cy="92.20" r="1.5" fill="rgba(110,110,110,0.42)" stroke="rgba(85,85,85,0.5)" stroke-width="0.6"/>
<circle cx="245.40" cy="111.00" r="1.5" fill="rgba(110,110,110,0.42)" stroke="rgba(85,85,85,0.5)" stroke-width="0.6"/>
<circle cx="241.00" cy="113.80" r="1.5" fill="rgba(110,110,110,0.42)" stroke="rgba(85,85,85,0.5)" stroke-width="0.6"/>
<circle cx="241.90" cy="119.60" r="1.5" fill="rgba(110,110,110,0.42)" stroke="rgba(85,85,85,0.5)" stroke-width="0.6"/>
<circle cx="239.90" cy="122.50" r="1.5" fill="rgba(110,110,110,0.42)" stroke="rgba(85,85,85,0.5)" stroke-width="0.6"/>
<circle cx="237.30" cy="127.10" r="1.5" fill="rgba(110,110,110,0.42)" stroke="rgba(85,85,85,0.5)" stroke-width="0.6"/>
<circle cx="244.80" cy="128.30" r="1.5" fill="rgba(110,110,110,0.42)" stroke="rgba(85,85,85,0.5)" stroke-width="0.6"/>
<circle cx="239.60" cy="131.20" r="1.5" fill="rgba(110,110,110,0.42)" stroke="rgba(85,85,85,0.5)" stroke-width="0.6"/>
<circle cx="241.00" cy="159.00" r="1.5" fill="rgba(110,110,110,0.42)" stroke="rgba(85,85,85,0.5)" stroke-width="0.6"/>
<circle cx="238.70" cy="165.40" r="1.5" fill="rgba(110,110,110,0.42)" stroke="rgba(85,85,85,0.5)" stroke-width="0.6"/>
<circle cx="238.10" cy="171.10" r="1.5" fill="rgba(110,110,110,0.42)" stroke="rgba(85,85,85,0.5)" stroke-width="0.6"/>
<circle cx="241.00" cy="174.00" r="1.5" fill="rgba(110,110,110,0.42)" stroke="rgba(85,85,85,0.5)" stroke-width="0.6"/>
<circle cx="239.50" cy="176.90" r="1.5" fill="rgba(110,110,110,0.42)" stroke="rgba(85,85,85,0.5)" stroke-width="0.6"/>
<circle cx="245.90" cy="174.00" r="1.5" fill="rgba(110,110,110,0.42)" stroke="rgba(85,85,85,0.5)" stroke-width="0.6"/>
<circle cx="238.10" cy="181.20" r="1.5" fill="rgba(110,110,110,0.42)" stroke="rgba(85,85,85,0.5)" stroke-width="0.6"/>
<circle cx="245.90" cy="181.20" r="1.5" fill="rgba(110,110,110,0.42)" stroke="rgba(85,85,85,0.5)" stroke-width="0.6"/>
<circle cx="243.90" cy="184.10" r="1.5" fill="rgba(110,110,110,0.42)" stroke="rgba(85,85,85,0.5)" stroke-width="0.6"/>
<circle cx="241.00" cy="187.00" r="1.5" fill="rgba(110,110,110,0.42)" stroke="rgba(85,85,85,0.5)" stroke-width="0.6"/>
<circle cx="238.10" cy="191.30" r="1.5" fill="rgba(110,110,110,0.42)" stroke="rgba(85,85,85,0.5)" stroke-width="0.6"/>
<circle cx="237.20" cy="202.90" r="1.5" fill="rgba(110,110,110,0.42)" stroke="rgba(85,85,85,0.5)" stroke-width="0.6"/>
<circle cx="245.90" cy="204.30" r="1.5" fill="rgba(110,110,110,0.42)" stroke="rgba(85,85,85,0.5)" stroke-width="0.6"/>
<circle cx="241.00" cy="209.20" r="1.5" fill="rgba(110,110,110,0.42)" stroke="rgba(85,85,85,0.5)" stroke-width="0.6"/>
<circle cx="238.40" cy="215.00" r="1.5" fill="rgba(110,110,110,0.42)" stroke="rgba(85,85,85,0.5)" stroke-width="0.6"/>
<circle cx="242.20" cy="217.50" r="1.5" fill="rgba(110,110,110,0.42)" stroke="rgba(85,85,85,0.5)" stroke-width="0.6"/>
<circle cx="238.40" cy="219.20" r="1.5" fill="rgba(110,110,110,0.42)" stroke="rgba(85,85,85,0.5)" stroke-width="0.6"/>
<circle cx="243.00" cy="220.00" r="1.5" fill="rgba(110,110,110,0.42)" stroke="rgba(85,85,85,0.5)" stroke-width="0.6"/>
<circle cx="240.50" cy="223.80" r="1.5" fill="rgba(110,110,110,0.42)" stroke="rgba(85,85,85,0.5)" stroke-width="0.6"/>
<circle cx="237.40" cy="225.80" r="1.5" fill="rgba(110,110,110,0.42)" stroke="rgba(85,85,85,0.5)" stroke-width="0.6"/>
<circle cx="243.60" cy="225.80" r="1.5" fill="rgba(110,110,110,0.42)" stroke="rgba(85,85,85,0.5)" stroke-width="0.6"/>
<circle cx="239.50" cy="230.00" r="1.5" fill="rgba(110,110,110,0.42)" stroke="rgba(85,85,85,0.5)" stroke-width="0.6"/>
<circle cx="242.60" cy="231.00" r="1.5" fill="rgba(110,110,110,0.42)" stroke="rgba(85,85,85,0.5)" stroke-width="0.6"/>
<circle cx="237.40" cy="235.20" r="1.5" fill="rgba(110,110,110,0.42)" stroke="rgba(85,85,85,0.5)" stroke-width="0.6"/>
<circle cx="241.50" cy="236.30" r="1.5" fill="rgba(110,110,110,0.42)" stroke="rgba(85,85,85,0.5)" stroke-width="0.6"/>
<circle cx="244.70" cy="238.30" r="1.5" fill="rgba(110,110,110,0.42)" stroke="rgba(85,85,85,0.5)" stroke-width="0.6"/>
<circle cx="238.40" cy="239.40" r="1.5" fill="rgba(110,110,110,0.42)" stroke="rgba(85,85,85,0.5)" stroke-width="0.6"/>
<circle cx="240.90" cy="241.50" r="1.5" fill="rgba(110,110,110,0.42)" stroke="rgba(85,85,85,0.5)" stroke-width="0.6"/>
<circle cx="243.60" cy="242.50" r="1.5" fill="rgba(110,110,110,0.42)" stroke="rgba(85,85,85,0.5)" stroke-width="0.6"/>
<circle cx="239.50" cy="244.60" r="1.5" fill="rgba(110,110,110,0.42)" stroke="rgba(85,85,85,0.5)" stroke-width="0.6"/>
<circle cx="243.00" cy="245.60" r="1.5" fill="rgba(110,110,110,0.42)" stroke="rgba(85,85,85,0.5)" stroke-width="0.6"/>
<circle cx="240.50" cy="247.70" r="1.5" fill="rgba(110,110,110,0.42)" stroke="rgba(85,85,85,0.5)" stroke-width="0.6"/>
<circle cx="238.40" cy="249.80" r="1.5" fill="rgba(110,110,110,0.42)" stroke="rgba(85,85,85,0.5)" stroke-width="0.6"/>
<circle cx="244.70" cy="248.80" r="1.5" fill="rgba(110,110,110,0.42)" stroke="rgba(85,85,85,0.5)" stroke-width="0.6"/>
<circle cx="241.50" cy="251.90" r="1.5" fill="rgba(110,110,110,0.42)" stroke="rgba(85,85,85,0.5)" stroke-width="0.6"/>
<circle cx="237.40" cy="254.00" r="1.5" fill="rgba(110,110,110,0.42)" stroke="rgba(85,85,85,0.5)" stroke-width="0.6"/>
<circle cx="246.30" cy="254.00" r="1.5" fill="rgba(110,110,110,0.42)" stroke="rgba(85,85,85,0.5)" stroke-width="0.6"/>
<circle cx="239.79" cy="255.10" r="1.5" fill="rgba(110,110,110,0.42)" stroke="rgba(85,85,85,0.5)" stroke-width="0.6"/>
<circle cx="239.02" cy="261.48" r="1.5" fill="rgba(110,110,110,0.42)" stroke="rgba(85,85,85,0.5)" stroke-width="0.6"/>
<circle cx="244.10" cy="266.71" r="1.5" fill="rgba(110,110,110,0.42)" stroke="rgba(85,85,85,0.5)" stroke-width="0.6"/>
<circle cx="245.94" cy="266.35" r="1.5" fill="rgba(110,110,110,0.42)" stroke="rgba(85,85,85,0.5)" stroke-width="0.6"/>
<circle cx="238.60" cy="265.16" r="1.5" fill="rgba(110,110,110,0.42)" stroke="rgba(85,85,85,0.5)" stroke-width="0.6"/>
<circle cx="240.80" cy="266.70" r="1.5" fill="rgba(110,110,110,0.42)" stroke="rgba(85,85,85,0.5)" stroke-width="0.6"/>
<circle cx="245.91" cy="263.69" r="1.5" fill="rgba(110,110,110,0.42)" stroke="rgba(85,85,85,0.5)" stroke-width="0.6"/>
<circle cx="240.58" cy="267.04" r="1.5" fill="rgba(110,110,110,0.42)" stroke="rgba(85,85,85,0.5)" stroke-width="0.6"/>
<circle cx="246.15" cy="266.75" r="1.5" fill="rgba(110,110,110,0.42)" stroke="rgba(85,85,85,0.5)" stroke-width="0.6"/>
<circle cx="237.30" cy="267.05" r="1.5" fill="rgba(110,110,110,0.42)" stroke="rgba(85,85,85,0.5)" stroke-width="0.6"/>
<circle cx="240.58" cy="267.38" r="1.5" fill="rgba(110,110,110,0.42)" stroke="rgba(85,85,85,0.5)" stroke-width="0.6"/>
<circle cx="245.28" cy="259.45" r="1.5" fill="rgba(110,110,110,0.42)" stroke="rgba(85,85,85,0.5)" stroke-width="0.6"/>
<circle cx="246.38" cy="262.89" r="1.5" fill="rgba(110,110,110,0.42)" stroke="rgba(85,85,85,0.5)" stroke-width="0.6"/>
<circle cx="239.96" cy="258.03" r="1.5" fill="rgba(110,110,110,0.42)" stroke="rgba(85,85,85,0.5)" stroke-width="0.6"/>
<circle cx="245.78" cy="266.87" r="1.5" fill="rgba(110,110,110,0.42)" stroke="rgba(85,85,85,0.5)" stroke-width="0.6"/>
<circle cx="237.11" cy="262.71" r="1.5" fill="rgba(110,110,110,0.42)" stroke="rgba(85,85,85,0.5)" stroke-width="0.6"/>
<circle cx="240.43" cy="263.70" r="1.5" fill="rgba(110,110,110,0.42)" stroke="rgba(85,85,85,0.5)" stroke-width="0.6"/>
<circle cx="239.98" cy="265.93" r="1.5" fill="rgba(110,110,110,0.42)" stroke="rgba(85,85,85,0.5)" stroke-width="0.6"/>
<circle cx="236.83" cy="266.94" r="1.5" fill="rgba(110,110,110,0.42)" stroke="rgba(85,85,85,0.5)" stroke-width="0.6"/>
<circle cx="240.17" cy="266.43" r="1.5" fill="rgba(110,110,110,0.42)" stroke="rgba(85,85,85,0.5)" stroke-width="0.6"/>
<circle cx="237.99" cy="256.49" r="1.5" fill="rgba(110,110,110,0.42)" stroke="rgba(85,85,85,0.5)" stroke-width="0.6"/>
<circle cx="238.79" cy="255.71" r="1.5" fill="rgba(110,110,110,0.42)" stroke="rgba(85,85,85,0.5)" stroke-width="0.6"/>
<circle cx="244.69" cy="266.03" r="1.5" fill="rgba(110,110,110,0.42)" stroke="rgba(85,85,85,0.5)" stroke-width="0.6"/>
<circle cx="240.95" cy="261.44" r="1.5" fill="rgba(110,110,110,0.42)" stroke="rgba(85,85,85,0.5)" stroke-width="0.6"/>
<circle cx="241.35" cy="267.42" r="1.5" fill="rgba(110,110,110,0.42)" stroke="rgba(85,85,85,0.5)" stroke-width="0.6"/>
<circle cx="245.63" cy="265.94" r="1.5" fill="rgba(110,110,110,0.42)" stroke="rgba(85,85,85,0.5)" stroke-width="0.6"/>
<circle cx="240.30" cy="266.83" r="1.5" fill="rgba(110,110,110,0.42)" stroke="rgba(85,85,85,0.5)" stroke-width="0.6"/>
<circle cx="237.09" cy="259.49" r="1.5" fill="rgba(110,110,110,0.42)" stroke="rgba(85,85,85,0.5)" stroke-width="0.6"/>
<circle cx="244.59" cy="265.71" r="1.5" fill="rgba(110,110,110,0.42)" stroke="rgba(85,85,85,0.5)" stroke-width="0.6"/>
<circle cx="237.19" cy="262.41" r="1.5" fill="rgba(110,110,110,0.42)" stroke="rgba(85,85,85,0.5)" stroke-width="0.6"/>
<circle cx="237.40" cy="267.47" r="1.5" fill="rgba(110,110,110,0.42)" stroke="rgba(85,85,85,0.5)" stroke-width="0.6"/>
<circle cx="239.27" cy="258.58" r="1.5" fill="rgba(110,110,110,0.42)" stroke="rgba(85,85,85,0.5)" stroke-width="0.6"/>
<circle cx="245.43" cy="262.69" r="1.5" fill="rgba(110,110,110,0.42)" stroke="rgba(85,85,85,0.5)" stroke-width="0.6"/>
<circle cx="239.41" cy="266.12" r="1.5" fill="rgba(110,110,110,0.42)" stroke="rgba(85,85,85,0.5)" stroke-width="0.6"/>
<circle cx="242.72" cy="256.31" r="1.5" fill="rgba(110,110,110,0.42)" stroke="rgba(85,85,85,0.5)" stroke-width="0.6"/>
<circle cx="243.68" cy="266.52" r="1.5" fill="rgba(110,110,110,0.42)" stroke="rgba(85,85,85,0.5)" stroke-width="0.6"/>
<circle cx="239.45" cy="266.24" r="1.5" fill="rgba(110,110,110,0.42)" stroke="rgba(85,85,85,0.5)" stroke-width="0.6"/>
<circle cx="244.05" cy="267.59" r="1.5" fill="rgba(110,110,110,0.42)" stroke="rgba(85,85,85,0.5)" stroke-width="0.6"/>
<circle cx="242.89" cy="258.74" r="1.5" fill="rgba(110,110,110,0.42)" stroke="rgba(85,85,85,0.5)" stroke-width="0.6"/>
<circle cx="237.03" cy="257.36" r="1.5" fill="rgba(110,110,110,0.42)" stroke="rgba(85,85,85,0.5)" stroke-width="0.6"/>
<circle cx="241.36" cy="266.65" r="1.5" fill="rgba(110,110,110,0.42)" stroke="rgba(85,85,85,0.5)" stroke-width="0.6"/>
<circle cx="245.96" cy="256.39" r="1.5" fill="rgba(110,110,110,0.42)" stroke="rgba(85,85,85,0.5)" stroke-width="0.6"/>
<circle cx="239.21" cy="265.86" r="1.5" fill="rgba(110,110,110,0.42)" stroke="rgba(85,85,85,0.5)" stroke-width="0.6"/>
<circle cx="241.54" cy="265.59" r="1.5" fill="rgba(110,110,110,0.42)" stroke="rgba(85,85,85,0.5)" stroke-width="0.6"/>
<circle cx="238.56" cy="258.21" r="1.5" fill="rgba(110,110,110,0.42)" stroke="rgba(85,85,85,0.5)" stroke-width="0.6"/>
<circle cx="243.89" cy="261.81" r="1.5" fill="rgba(110,110,110,0.42)" stroke="rgba(85,85,85,0.5)" stroke-width="0.6"/>
<circle cx="244.22" cy="261.43" r="1.5" fill="rgba(110,110,110,0.42)" stroke="rgba(85,85,85,0.5)" stroke-width="0.6"/>
<circle cx="239.95" cy="264.26" r="1.5" fill="rgba(110,110,110,0.42)" stroke="rgba(85,85,85,0.5)" stroke-width="0.6"/>
<circle cx="318.00" cy="40.30" r="1.5" fill="rgba(110,110,110,0.42)" stroke="rgba(85,85,85,0.5)" stroke-width="0.6"/>
<circle cx="318.80" cy="52.40" r="1.5" fill="rgba(110,110,110,0.42)" stroke="rgba(85,85,85,0.5)" stroke-width="0.6"/>
<circle cx="316.50" cy="75.50" r="1.5" fill="rgba(110,110,110,0.42)" stroke="rgba(85,85,85,0.5)" stroke-width="0.6"/>
<circle cx="322.30" cy="92.20" r="1.5" fill="rgba(110,110,110,0.42)" stroke="rgba(85,85,85,0.5)" stroke-width="0.6"/>
<circle cx="320.00" cy="94.20" r="1.5" fill="rgba(110,110,110,0.42)" stroke="rgba(85,85,85,0.5)" stroke-width="0.6"/>
<circle cx="318.00" cy="97.10" r="1.5" fill="rgba(110,110,110,0.42)" stroke="rgba(85,85,85,0.5)" stroke-width="0.6"/>
<circle cx="317.10" cy="104.30" r="1.5" fill="rgba(110,110,110,0.42)" stroke="rgba(85,85,85,0.5)" stroke-width="0.6"/>
<circle cx="318.80" cy="106.60" r="1.5" fill="rgba(110,110,110,0.42)" stroke="rgba(85,85,85,0.5)" stroke-width="0.6"/>
<circle cx="318.00" cy="115.30" r="1.5" fill="rgba(110,110,110,0.42)" stroke="rgba(85,85,85,0.5)" stroke-width="0.6"/>
<circle cx="316.50" cy="124.00" r="1.5" fill="rgba(110,110,110,0.42)" stroke="rgba(85,85,85,0.5)" stroke-width="0.6"/>
<circle cx="317.10" cy="123.80" r="1.5" fill="rgba(110,110,110,0.42)" stroke="rgba(85,85,85,0.5)" stroke-width="0.6"/>
<circle cx="318.00" cy="150.40" r="1.5" fill="rgba(110,110,110,0.42)" stroke="rgba(85,85,85,0.5)" stroke-width="0.6"/>
<circle cx="318.00" cy="152.70" r="1.5" fill="rgba(110,110,110,0.42)" stroke="rgba(85,85,85,0.5)" stroke-width="0.6"/>
<circle cx="325.20" cy="157.60" r="1.5" fill="rgba(110,110,110,0.42)" stroke="rgba(85,85,85,0.5)" stroke-width="0.6"/>
<circle cx="323.80" cy="172.00" r="1.5" fill="rgba(110,110,110,0.42)" stroke="rgba(85,85,85,0.5)" stroke-width="0.6"/>
<circle cx="324.60" cy="174.00" r="1.5" fill="rgba(110,110,110,0.42)" stroke="rgba(85,85,85,0.5)" stroke-width="0.6"/>
<circle cx="323.80" cy="187.90" r="1.5" fill="rgba(110,110,110,0.42)" stroke="rgba(85,85,85,0.5)" stroke-width="0.6"/>
<circle cx="317.10" cy="197.10" r="1.5" fill="rgba(110,110,110,0.42)" stroke="rgba(85,85,85,0.5)" stroke-width="0.6"/>
<circle cx="317.30" cy="197.70" r="1.5" fill="rgba(110,110,110,0.42)" stroke="rgba(85,85,85,0.5)" stroke-width="0.6"/>
<circle cx="320.40" cy="201.50" r="1.5" fill="rgba(110,110,110,0.42)" stroke="rgba(85,85,85,0.5)" stroke-width="0.6"/>
<circle cx="322.90" cy="203.30" r="1.5" fill="rgba(110,110,110,0.42)" stroke="rgba(85,85,85,0.5)" stroke-width="0.6"/>
<circle cx="321.70" cy="207.40" r="1.5" fill="rgba(110,110,110,0.42)" stroke="rgba(85,85,85,0.5)" stroke-width="0.6"/>
<circle cx="323.50" cy="206.70" r="1.5" fill="rgba(110,110,110,0.42)" stroke="rgba(85,85,85,0.5)" stroke-width="0.6"/>
<circle cx="320.90" cy="215.60" r="1.5" fill="rgba(110,110,110,0.42)" stroke="rgba(85,85,85,0.5)" stroke-width="0.6"/>
<circle cx="325.00" cy="216.90" r="1.5" fill="rgba(110,110,110,0.42)" stroke="rgba(85,85,85,0.5)" stroke-width="0.6"/>
<circle cx="319.90" cy="222.00" r="1.5" fill="rgba(110,110,110,0.42)" stroke="rgba(85,85,85,0.5)" stroke-width="0.6"/>
<circle cx="317.30" cy="227.20" r="1.5" fill="rgba(110,110,110,0.42)" stroke="rgba(85,85,85,0.5)" stroke-width="0.6"/>
<circle cx="320.90" cy="227.20" r="1.5" fill="rgba(110,110,110,0.42)" stroke="rgba(85,85,85,0.5)" stroke-width="0.6"/>
<circle cx="322.40" cy="244.40" r="1.5" fill="rgba(110,110,110,0.42)" stroke="rgba(85,85,85,0.5)" stroke-width="0.6"/>
<circle cx="319.10" cy="248.50" r="1.5" fill="rgba(110,110,110,0.42)" stroke="rgba(85,85,85,0.5)" stroke-width="0.6"/>
<circle cx="323.50" cy="252.80" r="1.5" fill="rgba(110,110,110,0.42)" stroke="rgba(85,85,85,0.5)" stroke-width="0.6"/>
<circle cx="317.80" cy="256.20" r="1.5" fill="rgba(110,110,110,0.42)" stroke="rgba(85,85,85,0.5)" stroke-width="0.6"/>
<circle cx="316.50" cy="259.20" r="1.5" fill="rgba(110,110,110,0.42)" stroke="rgba(85,85,85,0.5)" stroke-width="0.6"/>
<circle cx="319.10" cy="259.20" r="1.5" fill="rgba(110,110,110,0.42)" stroke="rgba(85,85,85,0.5)" stroke-width="0.6"/>
<circle cx="320.40" cy="264.40" r="1.5" fill="rgba(110,110,110,0.42)" stroke="rgba(85,85,85,0.5)" stroke-width="0.6"/>
<circle cx="467.50" cy="100.80" r="1.5" fill="rgba(110,110,110,0.42)" stroke="rgba(85,85,85,0.5)" stroke-width="0.6"/>
<circle cx="466.90" cy="123.80" r="1.5" fill="rgba(110,110,110,0.42)" stroke="rgba(85,85,85,0.5)" stroke-width="0.6"/>
<circle cx="468.10" cy="162.30" r="1.5" fill="rgba(110,110,110,0.42)" stroke="rgba(85,85,85,0.5)" stroke-width="0.6"/>
<circle cx="471.30" cy="166.90" r="1.5" fill="rgba(110,110,110,0.42)" stroke="rgba(85,85,85,0.5)" stroke-width="0.6"/>
<circle cx="466.90" cy="179.00" r="1.5" fill="rgba(110,110,110,0.42)" stroke="rgba(85,85,85,0.5)" stroke-width="0.6"/>
<circle cx="468.80" cy="179.60" r="1.5" fill="rgba(110,110,110,0.42)" stroke="rgba(85,85,85,0.5)" stroke-width="0.6"/>
<circle cx="472.30" cy="182.90" r="1.5" fill="rgba(110,110,110,0.42)" stroke="rgba(85,85,85,0.5)" stroke-width="0.6"/>
<circle cx="473.30" cy="184.80" r="1.5" fill="rgba(110,110,110,0.42)" stroke="rgba(85,85,85,0.5)" stroke-width="0.6"/>
<circle cx="464.60" cy="185.40" r="1.5" fill="rgba(110,110,110,0.42)" stroke="rgba(85,85,85,0.5)" stroke-width="0.6"/>
<circle cx="469.40" cy="187.30" r="1.5" fill="rgba(110,110,110,0.42)" stroke="rgba(85,85,85,0.5)" stroke-width="0.6"/>
<circle cx="471.90" cy="189.20" r="1.5" fill="rgba(110,110,110,0.42)" stroke="rgba(85,85,85,0.5)" stroke-width="0.6"/>
<circle cx="468.50" cy="191.90" r="1.5" fill="rgba(110,110,110,0.42)" stroke="rgba(85,85,85,0.5)" stroke-width="0.6"/>
<circle cx="467.50" cy="192.50" r="1.5" fill="rgba(110,110,110,0.42)" stroke="rgba(85,85,85,0.5)" stroke-width="0.6"/>
<circle cx="469.40" cy="201.50" r="1.5" fill="rgba(110,110,110,0.42)" stroke="rgba(85,85,85,0.5)" stroke-width="0.6"/>
<circle cx="468.80" cy="202.70" r="1.5" fill="rgba(110,110,110,0.42)" stroke="rgba(85,85,85,0.5)" stroke-width="0.6"/>
<circle cx="464.60" cy="206.50" r="1.5" fill="rgba(110,110,110,0.42)" stroke="rgba(85,85,85,0.5)" stroke-width="0.6"/>
<circle cx="464.20" cy="208.80" r="1.5" fill="rgba(110,110,110,0.42)" stroke="rgba(85,85,85,0.5)" stroke-width="0.6"/>
<circle cx="470.00" cy="209.80" r="1.5" fill="rgba(110,110,110,0.42)" stroke="rgba(85,85,85,0.5)" stroke-width="0.6"/>
<circle cx="468.10" cy="211.20" r="1.5" fill="rgba(110,110,110,0.42)" stroke="rgba(85,85,85,0.5)" stroke-width="0.6"/>
<circle cx="465.60" cy="211.70" r="1.5" fill="rgba(110,110,110,0.42)" stroke="rgba(85,85,85,0.5)" stroke-width="0.6"/>
<circle cx="464.60" cy="249.60" r="1.5" fill="rgba(110,110,110,0.42)" stroke="rgba(85,85,85,0.5)" stroke-width="0.6"/>
<circle cx="464.60" cy="252.50" r="1.5" fill="rgba(110,110,110,0.42)" stroke="rgba(85,85,85,0.5)" stroke-width="0.6"/>
<circle cx="470.40" cy="249.60" r="1.5" fill="rgba(110,110,110,0.42)" stroke="rgba(85,85,85,0.5)" stroke-width="0.6"/>
<circle cx="472.30" cy="250.60" r="1.5" fill="rgba(110,110,110,0.42)" stroke="rgba(85,85,85,0.5)" stroke-width="0.6"/>
<circle cx="469.40" cy="255.40" r="1.5" fill="rgba(110,110,110,0.42)" stroke="rgba(85,85,85,0.5)" stroke-width="0.6"/>
<circle cx="464.60" cy="259.20" r="1.5" fill="rgba(110,110,110,0.42)" stroke="rgba(85,85,85,0.5)" stroke-width="0.6"/>
<circle cx="464.60" cy="262.10" r="1.5" fill="rgba(110,110,110,0.42)" stroke="rgba(85,85,85,0.5)" stroke-width="0.6"/>
<circle cx="466.50" cy="260.70" r="1.5" fill="rgba(110,110,110,0.42)" stroke="rgba(85,85,85,0.5)" stroke-width="0.6"/>
<circle cx="471.30" cy="262.60" r="1.5" fill="rgba(110,110,110,0.42)" stroke="rgba(85,85,85,0.5)" stroke-width="0.6"/>
<circle cx="472.80" cy="262.90" r="1.5" fill="rgba(110,110,110,0.42)" stroke="rgba(85,85,85,0.5)" stroke-width="0.6"/>
<circle cx="467.34" cy="223.18" r="1.5" fill="rgba(110,110,110,0.42)" stroke="rgba(85,85,85,0.5)" stroke-width="0.6"/>
<circle cx="463.95" cy="239.38" r="1.5" fill="rgba(110,110,110,0.42)" stroke="rgba(85,85,85,0.5)" stroke-width="0.6"/>
<circle cx="472.03" cy="218.91" r="1.5" fill="rgba(110,110,110,0.42)" stroke="rgba(85,85,85,0.5)" stroke-width="0.6"/>
<circle cx="463.78" cy="220.66" r="1.5" fill="rgba(110,110,110,0.42)" stroke="rgba(85,85,85,0.5)" stroke-width="0.6"/>
<circle cx="469.63" cy="213.19" r="1.5" fill="rgba(110,110,110,0.42)" stroke="rgba(85,85,85,0.5)" stroke-width="0.6"/>
<circle cx="474.76" cy="223.40" r="1.5" fill="rgba(110,110,110,0.42)" stroke="rgba(85,85,85,0.5)" stroke-width="0.6"/>
<circle cx="474.85" cy="242.92" r="1.5" fill="rgba(110,110,110,0.42)" stroke="rgba(85,85,85,0.5)" stroke-width="0.6"/>
<circle cx="464.01" cy="221.27" r="1.5" fill="rgba(110,110,110,0.42)" stroke="rgba(85,85,85,0.5)" stroke-width="0.6"/>
<circle cx="468.98" cy="215.37" r="1.5" fill="rgba(110,110,110,0.42)" stroke="rgba(85,85,85,0.5)" stroke-width="0.6"/>
<circle cx="468.36" cy="236.84" r="1.5" fill="rgba(110,110,110,0.42)" stroke="rgba(85,85,85,0.5)" stroke-width="0.6"/>
<circle cx="468.00" cy="220.20" r="1.5" fill="rgba(110,110,110,0.42)" stroke="rgba(85,85,85,0.5)" stroke-width="0.6"/>
<circle cx="471.09" cy="233.71" r="1.5" fill="rgba(110,110,110,0.42)" stroke="rgba(85,85,85,0.5)" stroke-width="0.6"/>
<circle cx="473.16" cy="238.18" r="1.5" fill="rgba(110,110,110,0.42)" stroke="rgba(85,85,85,0.5)" stroke-width="0.6"/>
<circle cx="464.45" cy="235.25" r="1.5" fill="rgba(110,110,110,0.42)" stroke="rgba(85,85,85,0.5)" stroke-width="0.6"/>
<circle cx="466.53" cy="241.43" r="1.5" fill="rgba(110,110,110,0.42)" stroke="rgba(85,85,85,0.5)" stroke-width="0.6"/>
<circle cx="467.48" cy="231.84" r="1.5" fill="rgba(110,110,110,0.42)" stroke="rgba(85,85,85,0.5)" stroke-width="0.6"/>
<circle cx="465.39" cy="237.83" r="1.5" fill="rgba(110,110,110,0.42)" stroke="rgba(85,85,85,0.5)" stroke-width="0.6"/>
<circle cx="465.94" cy="220.66" r="1.5" fill="rgba(110,110,110,0.42)" stroke="rgba(85,85,85,0.5)" stroke-width="0.6"/>
<circle cx="473.61" cy="217.37" r="1.5" fill="rgba(110,110,110,0.42)" stroke="rgba(85,85,85,0.5)" stroke-width="0.6"/>
<circle cx="466.92" cy="232.24" r="1.5" fill="rgba(110,110,110,0.42)" stroke="rgba(85,85,85,0.5)" stroke-width="0.6"/>
<circle cx="474.91" cy="225.86" r="1.5" fill="rgba(110,110,110,0.42)" stroke="rgba(85,85,85,0.5)" stroke-width="0.6"/>
<circle cx="465.78" cy="229.76" r="1.5" fill="rgba(110,110,110,0.42)" stroke="rgba(85,85,85,0.5)" stroke-width="0.6"/>
<circle cx="470.84" cy="240.30" r="1.5" fill="rgba(110,110,110,0.42)" stroke="rgba(85,85,85,0.5)" stroke-width="0.6"/>
<circle cx="464.23" cy="246.68" r="1.5" fill="rgba(110,110,110,0.42)" stroke="rgba(85,85,85,0.5)" stroke-width="0.6"/>
<circle cx="472.83" cy="228.62" r="1.5" fill="rgba(110,110,110,0.42)" stroke="rgba(85,85,85,0.5)" stroke-width="0.6"/>
<circle cx="473.97" cy="241.42" r="1.5" fill="rgba(110,110,110,0.42)" stroke="rgba(85,85,85,0.5)" stroke-width="0.6"/>
<circle cx="466.52" cy="213.41" r="1.5" fill="rgba(110,110,110,0.42)" stroke="rgba(85,85,85,0.5)" stroke-width="0.6"/>
<circle cx="465.27" cy="216.17" r="1.5" fill="rgba(110,110,110,0.42)" stroke="rgba(85,85,85,0.5)" stroke-width="0.6"/>
<circle cx="470.00" cy="246.05" r="1.5" fill="rgba(110,110,110,0.42)" stroke="rgba(85,85,85,0.5)" stroke-width="0.6"/>
<circle cx="467.47" cy="244.56" r="1.5" fill="rgba(110,110,110,0.42)" stroke="rgba(85,85,85,0.5)" stroke-width="0.6"/>
<circle cx="468.39" cy="242.31" r="1.5" fill="rgba(110,110,110,0.42)" stroke="rgba(85,85,85,0.5)" stroke-width="0.6"/>
<circle cx="472.33" cy="221.10" r="1.5" fill="rgba(110,110,110,0.42)" stroke="rgba(85,85,85,0.5)" stroke-width="0.6"/>
<circle cx="464.27" cy="245.10" r="1.5" fill="rgba(110,110,110,0.42)" stroke="rgba(85,85,85,0.5)" stroke-width="0.6"/>
<circle cx="470.44" cy="232.87" r="1.5" fill="rgba(110,110,110,0.42)" stroke="rgba(85,85,85,0.5)" stroke-width="0.6"/>
<circle cx="467.42" cy="219.62" r="1.5" fill="rgba(110,110,110,0.42)" stroke="rgba(85,85,85,0.5)" stroke-width="0.6"/>
<circle cx="465.45" cy="216.95" r="1.5" fill="rgba(110,110,110,0.42)" stroke="rgba(85,85,85,0.5)" stroke-width="0.6"/>
<circle cx="470.19" cy="220.92" r="1.5" fill="rgba(110,110,110,0.42)" stroke="rgba(85,85,85,0.5)" stroke-width="0.6"/>
<circle cx="465.44" cy="234.81" r="1.5" fill="rgba(110,110,110,0.42)" stroke="rgba(85,85,85,0.5)" stroke-width="0.6"/>
<circle cx="466.93" cy="212.40" r="1.5" fill="rgba(110,110,110,0.42)" stroke="rgba(85,85,85,0.5)" stroke-width="0.6"/>
<circle cx="465.22" cy="235.74" r="1.5" fill="rgba(110,110,110,0.42)" stroke="rgba(85,85,85,0.5)" stroke-width="0.6"/>
<circle cx="465.44" cy="222.93" r="1.5" fill="rgba(110,110,110,0.42)" stroke="rgba(85,85,85,0.5)" stroke-width="0.6"/>
<circle cx="469.58" cy="239.83" r="1.5" fill="rgba(110,110,110,0.42)" stroke="rgba(85,85,85,0.5)" stroke-width="0.6"/>
<circle cx="464.22" cy="214.21" r="1.5" fill="rgba(110,110,110,0.42)" stroke="rgba(85,85,85,0.5)" stroke-width="0.6"/>
<circle cx="469.60" cy="225.84" r="1.5" fill="rgba(110,110,110,0.42)" stroke="rgba(85,85,85,0.5)" stroke-width="0.6"/>
<circle cx="464.09" cy="234.37" r="1.5" fill="rgba(110,110,110,0.42)" stroke="rgba(85,85,85,0.5)" stroke-width="0.6"/>
<circle cx="471.34" cy="217.73" r="1.5" fill="rgba(110,110,110,0.42)" stroke="rgba(85,85,85,0.5)" stroke-width="0.6"/>
<circle cx="466.40" cy="226.34" r="1.5" fill="rgba(110,110,110,0.42)" stroke="rgba(85,85,85,0.5)" stroke-width="0.6"/>
<circle cx="474.44" cy="222.77" r="1.5" fill="rgba(110,110,110,0.42)" stroke="rgba(85,85,85,0.5)" stroke-width="0.6"/>
<circle cx="469.80" cy="222.93" r="1.5" fill="rgba(110,110,110,0.42)" stroke="rgba(85,85,85,0.5)" stroke-width="0.6"/>
<circle cx="468.00" cy="224.50" r="1.5" fill="rgba(110,110,110,0.42)" stroke="rgba(85,85,85,0.5)" stroke-width="0.6"/>
<circle cx="474.96" cy="242.25" r="1.5" fill="rgba(110,110,110,0.42)" stroke="rgba(85,85,85,0.5)" stroke-width="0.6"/>
<circle cx="465.37" cy="224.73" r="1.5" fill="rgba(110,110,110,0.42)" stroke="rgba(85,85,85,0.5)" stroke-width="0.6"/>
<circle cx="465.44" cy="237.48" r="1.5" fill="rgba(110,110,110,0.42)" stroke="rgba(85,85,85,0.5)" stroke-width="0.6"/>
<circle cx="473.82" cy="212.21" r="1.5" fill="rgba(110,110,110,0.42)" stroke="rgba(85,85,85,0.5)" stroke-width="0.6"/>
<circle cx="472.84" cy="226.83" r="1.5" fill="rgba(110,110,110,0.42)" stroke="rgba(85,85,85,0.5)" stroke-width="0.6"/>
<circle cx="545.40" cy="112.60" r="1.5" fill="rgba(110,110,110,0.42)" stroke="rgba(85,85,85,0.5)" stroke-width="0.6"/>
<circle cx="547.30" cy="134.90" r="1.5" fill="rgba(110,110,110,0.42)" stroke="rgba(85,85,85,0.5)" stroke-width="0.6"/>
<circle cx="549.60" cy="139.40" r="1.5" fill="rgba(110,110,110,0.42)" stroke="rgba(85,85,85,0.5)" stroke-width="0.6"/>
<circle cx="548.50" cy="140.80" r="1.5" fill="rgba(110,110,110,0.42)" stroke="rgba(85,85,85,0.5)" stroke-width="0.6"/>
<circle cx="544.00" cy="146.10" r="1.5" fill="rgba(110,110,110,0.42)" stroke="rgba(85,85,85,0.5)" stroke-width="0.6"/>
<circle cx="545.10" cy="173.00" r="1.5" fill="rgba(110,110,110,0.42)" stroke="rgba(85,85,85,0.5)" stroke-width="0.6"/>
<circle cx="548.50" cy="170.40" r="1.5" fill="rgba(110,110,110,0.42)" stroke="rgba(85,85,85,0.5)" stroke-width="0.6"/>
<circle cx="549.60" cy="173.70" r="1.5" fill="rgba(110,110,110,0.42)" stroke="rgba(85,85,85,0.5)" stroke-width="0.6"/>
<circle cx="544.40" cy="179.30" r="1.5" fill="rgba(110,110,110,0.42)" stroke="rgba(85,85,85,0.5)" stroke-width="0.6"/>
<circle cx="550.20" cy="177.10" r="1.5" fill="rgba(110,110,110,0.42)" stroke="rgba(85,85,85,0.5)" stroke-width="0.6"/>
<circle cx="552.50" cy="181.10" r="1.5" fill="rgba(110,110,110,0.42)" stroke="rgba(85,85,85,0.5)" stroke-width="0.6"/>
<circle cx="551.10" cy="183.40" r="1.5" fill="rgba(110,110,110,0.42)" stroke="rgba(85,85,85,0.5)" stroke-width="0.6"/>
<circle cx="548.90" cy="190.10" r="1.5" fill="rgba(110,110,110,0.42)" stroke="rgba(85,85,85,0.5)" stroke-width="0.6"/>
<circle cx="550.20" cy="193.20" r="1.5" fill="rgba(110,110,110,0.42)" stroke="rgba(85,85,85,0.5)" stroke-width="0.6"/>
<circle cx="547.30" cy="196.80" r="1.5" fill="rgba(110,110,110,0.42)" stroke="rgba(85,85,85,0.5)" stroke-width="0.6"/>
<circle cx="545.10" cy="198.50" r="1.5" fill="rgba(110,110,110,0.42)" stroke="rgba(85,85,85,0.5)" stroke-width="0.6"/>
<circle cx="548.50" cy="199.60" r="1.5" fill="rgba(110,110,110,0.42)" stroke="rgba(85,85,85,0.5)" stroke-width="0.6"/>
<circle cx="546.20" cy="201.80" r="1.5" fill="rgba(110,110,110,0.42)" stroke="rgba(85,85,85,0.5)" stroke-width="0.6"/>
<circle cx="549.60" cy="203.00" r="1.5" fill="rgba(110,110,110,0.42)" stroke="rgba(85,85,85,0.5)" stroke-width="0.6"/>
<circle cx="547.30" cy="205.20" r="1.5" fill="rgba(110,110,110,0.42)" stroke="rgba(85,85,85,0.5)" stroke-width="0.6"/>
<circle cx="545.10" cy="209.70" r="1.5" fill="rgba(110,110,110,0.42)" stroke="rgba(85,85,85,0.5)" stroke-width="0.6"/>
<circle cx="550.70" cy="211.90" r="1.5" fill="rgba(110,110,110,0.42)" stroke="rgba(85,85,85,0.5)" stroke-width="0.6"/>
<circle cx="545.80" cy="220.90" r="1.5" fill="rgba(110,110,110,0.42)" stroke="rgba(85,85,85,0.5)" stroke-width="0.6"/>
<circle cx="549.60" cy="222.00" r="1.5" fill="rgba(110,110,110,0.42)" stroke="rgba(85,85,85,0.5)" stroke-width="0.6"/>
<circle cx="551.80" cy="220.90" r="1.5" fill="rgba(110,110,110,0.42)" stroke="rgba(85,85,85,0.5)" stroke-width="0.6"/>
<circle cx="544.40" cy="227.60" r="1.5" fill="rgba(110,110,110,0.42)" stroke="rgba(85,85,85,0.5)" stroke-width="0.6"/>
<circle cx="547.30" cy="228.80" r="1.5" fill="rgba(110,110,110,0.42)" stroke="rgba(85,85,85,0.5)" stroke-width="0.6"/>
<circle cx="550.70" cy="228.10" r="1.5" fill="rgba(110,110,110,0.42)" stroke="rgba(85,85,85,0.5)" stroke-width="0.6"/>
<circle cx="552.50" cy="229.90" r="1.5" fill="rgba(110,110,110,0.42)" stroke="rgba(85,85,85,0.5)" stroke-width="0.6"/>
<circle cx="545.10" cy="232.10" r="1.5" fill="rgba(110,110,110,0.42)" stroke="rgba(85,85,85,0.5)" stroke-width="0.6"/>
<circle cx="548.50" cy="233.20" r="1.5" fill="rgba(110,110,110,0.42)" stroke="rgba(85,85,85,0.5)" stroke-width="0.6"/>
<circle cx="551.10" cy="234.40" r="1.5" fill="rgba(110,110,110,0.42)" stroke="rgba(85,85,85,0.5)" stroke-width="0.6"/>
<circle cx="547.30" cy="236.60" r="1.5" fill="rgba(110,110,110,0.42)" stroke="rgba(85,85,85,0.5)" stroke-width="0.6"/>
<circle cx="550.20" cy="237.70" r="1.5" fill="rgba(110,110,110,0.42)" stroke="rgba(85,85,85,0.5)" stroke-width="0.6"/>
<circle cx="544.40" cy="242.20" r="1.5" fill="rgba(110,110,110,0.42)" stroke="rgba(85,85,85,0.5)" stroke-width="0.6"/>
<circle cx="548.90" cy="241.10" r="1.5" fill="rgba(110,110,110,0.42)" stroke="rgba(85,85,85,0.5)" stroke-width="0.6"/>
<circle cx="551.10" cy="242.90" r="1.5" fill="rgba(110,110,110,0.42)" stroke="rgba(85,85,85,0.5)" stroke-width="0.6"/>
<circle cx="546.20" cy="245.60" r="1.5" fill="rgba(110,110,110,0.42)" stroke="rgba(85,85,85,0.5)" stroke-width="0.6"/>
<circle cx="549.60" cy="246.70" r="1.5" fill="rgba(110,110,110,0.42)" stroke="rgba(85,85,85,0.5)" stroke-width="0.6"/>
<circle cx="545.10" cy="248.90" r="1.5" fill="rgba(110,110,110,0.42)" stroke="rgba(85,85,85,0.5)" stroke-width="0.6"/>
<circle cx="551.10" cy="250.10" r="1.5" fill="rgba(110,110,110,0.42)" stroke="rgba(85,85,85,0.5)" stroke-width="0.6"/>
<circle cx="547.30" cy="252.30" r="1.5" fill="rgba(110,110,110,0.42)" stroke="rgba(85,85,85,0.5)" stroke-width="0.6"/>
<circle cx="544.40" cy="252.70" r="1.5" fill="rgba(110,110,110,0.42)" stroke="rgba(85,85,85,0.5)" stroke-width="0.6"/>
<circle cx="550.20" cy="254.50" r="1.5" fill="rgba(110,110,110,0.42)" stroke="rgba(85,85,85,0.5)" stroke-width="0.6"/>
<circle cx="545.10" cy="260.10" r="1.5" fill="rgba(110,110,110,0.42)" stroke="rgba(85,85,85,0.5)" stroke-width="0.6"/>
<circle cx="625.00" cy="106.20" r="1.5" fill="rgba(110,110,110,0.42)" stroke="rgba(85,85,85,0.5)" stroke-width="0.6"/>
<circle cx="624.20" cy="111.50" r="1.5" fill="rgba(110,110,110,0.42)" stroke="rgba(85,85,85,0.5)" stroke-width="0.6"/>
<circle cx="623.70" cy="147.70" r="1.5" fill="rgba(110,110,110,0.42)" stroke="rgba(85,85,85,0.5)" stroke-width="0.6"/>
<circle cx="626.20" cy="149.00" r="1.5" fill="rgba(110,110,110,0.42)" stroke="rgba(85,85,85,0.5)" stroke-width="0.6"/>
<circle cx="632.30" cy="148.10" r="1.5" fill="rgba(110,110,110,0.42)" stroke="rgba(85,85,85,0.5)" stroke-width="0.6"/>
<circle cx="630.00" cy="151.50" r="1.5" fill="rgba(110,110,110,0.42)" stroke="rgba(85,85,85,0.5)" stroke-width="0.6"/>
<circle cx="626.90" cy="152.30" r="1.5" fill="rgba(110,110,110,0.42)" stroke="rgba(85,85,85,0.5)" stroke-width="0.6"/>
<circle cx="625.60" cy="154.20" r="1.5" fill="rgba(110,110,110,0.42)" stroke="rgba(85,85,85,0.5)" stroke-width="0.6"/>
<circle cx="628.10" cy="154.80" r="1.5" fill="rgba(110,110,110,0.42)" stroke="rgba(85,85,85,0.5)" stroke-width="0.6"/>
<circle cx="626.90" cy="156.70" r="1.5" fill="rgba(110,110,110,0.42)" stroke="rgba(85,85,85,0.5)" stroke-width="0.6"/>
<circle cx="626.90" cy="156.90" r="1.5" fill="rgba(110,110,110,0.42)" stroke="rgba(85,85,85,0.5)" stroke-width="0.6"/>
<circle cx="628.10" cy="159.80" r="1.5" fill="rgba(110,110,110,0.42)" stroke="rgba(85,85,85,0.5)" stroke-width="0.6"/>
<circle cx="627.50" cy="162.70" r="1.5" fill="rgba(110,110,110,0.42)" stroke="rgba(85,85,85,0.5)" stroke-width="0.6"/>
<circle cx="633.30" cy="163.70" r="1.5" fill="rgba(110,110,110,0.42)" stroke="rgba(85,85,85,0.5)" stroke-width="0.6"/>
<circle cx="632.70" cy="166.20" r="1.5" fill="rgba(110,110,110,0.42)" stroke="rgba(85,85,85,0.5)" stroke-width="0.6"/>
<circle cx="626.50" cy="178.10" r="1.5" fill="rgba(110,110,110,0.42)" stroke="rgba(85,85,85,0.5)" stroke-width="0.6"/>
<circle cx="629.40" cy="179.00" r="1.5" fill="rgba(110,110,110,0.42)" stroke="rgba(85,85,85,0.5)" stroke-width="0.6"/>
<circle cx="625.60" cy="196.30" r="1.5" fill="rgba(110,110,110,0.42)" stroke="rgba(85,85,85,0.5)" stroke-width="0.6"/>
<circle cx="626.50" cy="200.20" r="1.5" fill="rgba(110,110,110,0.42)" stroke="rgba(85,85,85,0.5)" stroke-width="0.6"/>
<circle cx="628.80" cy="201.20" r="1.5" fill="rgba(110,110,110,0.42)" stroke="rgba(85,85,85,0.5)" stroke-width="0.6"/>
<circle cx="630.40" cy="200.80" r="1.5" fill="rgba(110,110,110,0.42)" stroke="rgba(85,85,85,0.5)" stroke-width="0.6"/>
<circle cx="624.60" cy="209.80" r="1.5" fill="rgba(110,110,110,0.42)" stroke="rgba(85,85,85,0.5)" stroke-width="0.6"/>
<circle cx="630.40" cy="210.80" r="1.5" fill="rgba(110,110,110,0.42)" stroke="rgba(85,85,85,0.5)" stroke-width="0.6"/>
<circle cx="626.90" cy="212.70" r="1.5" fill="rgba(110,110,110,0.42)" stroke="rgba(85,85,85,0.5)" stroke-width="0.6"/>
<circle cx="624.50" cy="208.80" r="1.5" fill="rgba(110,110,110,0.42)" stroke="rgba(85,85,85,0.5)" stroke-width="0.6"/>
<circle cx="630.30" cy="210.80" r="1.5" fill="rgba(110,110,110,0.42)" stroke="rgba(85,85,85,0.5)" stroke-width="0.6"/>
<circle cx="623.90" cy="214.20" r="1.5" fill="rgba(110,110,110,0.42)" stroke="rgba(85,85,85,0.5)" stroke-width="0.6"/>
<circle cx="627.40" cy="219.40" r="1.5" fill="rgba(110,110,110,0.42)" stroke="rgba(85,85,85,0.5)" stroke-width="0.6"/>
<circle cx="631.20" cy="223.80" r="1.5" fill="rgba(110,110,110,0.42)" stroke="rgba(85,85,85,0.5)" stroke-width="0.6"/>
<circle cx="628.30" cy="231.00" r="1.5" fill="rgba(110,110,110,0.42)" stroke="rgba(85,85,85,0.5)" stroke-width="0.6"/>
<circle cx="631.20" cy="230.40" r="1.5" fill="rgba(110,110,110,0.42)" stroke="rgba(85,85,85,0.5)" stroke-width="0.6"/>
<circle cx="627.00" cy="233.80" r="1.5" fill="rgba(110,110,110,0.42)" stroke="rgba(85,85,85,0.5)" stroke-width="0.6"/>
<circle cx="624.50" cy="235.80" r="1.5" fill="rgba(110,110,110,0.42)" stroke="rgba(85,85,85,0.5)" stroke-width="0.6"/>
<circle cx="625.50" cy="245.80" r="1.5" fill="rgba(110,110,110,0.42)" stroke="rgba(85,85,85,0.5)" stroke-width="0.6"/>
<circle cx="631.20" cy="251.20" r="1.5" fill="rgba(110,110,110,0.42)" stroke="rgba(85,85,85,0.5)" stroke-width="0.6"/>
<path d="M83.50,260.75 L86.15,264.40 L83.50,268.05 L80.85,264.40 Z" fill="#000"/>
<path d="M83.50,262.11 L85.16,264.40 L83.50,266.69 L81.84,264.40 Z" fill="#fff"/>
<path d="M162.60,253.75 L165.25,257.40 L162.60,261.05 L159.95,257.40 Z" fill="#000"/>
<path d="M162.60,255.11 L164.26,257.40 L162.60,259.69 L160.94,257.40 Z" fill="#fff"/>
<path d="M241.60,225.85 L244.25,229.50 L241.60,233.15 L238.95,229.50 Z" fill="#000"/>
<path d="M241.60,227.21 L243.26,229.50 L241.60,231.79 L239.94,229.50 Z" fill="#fff"/>
<path d="M320.60,175.55 L323.25,179.20 L320.60,182.85 L317.95,179.20 Z" fill="#000"/>
<path d="M320.60,176.91 L322.26,179.20 L320.60,181.49 L318.94,179.20 Z" fill="#fff"/>
<path d="M468.80,220.75 L472.05,224.90 L468.80,229.05 L465.55,224.90 Z" fill="#000"/>
<path d="M468.80,222.29 L470.84,224.90 L468.80,227.51 L466.76,224.90 Z" fill="#fff"/>
<path d="M548.50,209.55 L551.75,213.70 L548.50,217.85 L545.25,213.70 Z" fill="#000"/>
<path d="M548.50,211.09 L550.54,213.70 L548.50,216.31 L546.46,213.70 Z" fill="#fff"/>
<path d="M628.50,184.15 L631.75,188.30 L628.50,192.45 L625.25,188.30 Z" fill="#000"/>
<path d="M628.50,185.69 L630.54,188.30 L628.50,190.91 L626.46,188.30 Z" fill="#fff"/>
<path d="M83.70,79.00 L83.70,76.80 L162.60,76.80 L162.60,79.00" fill="none" stroke="#777" stroke-width="1.2"/>
<text x="126.90" y="78.90" font-size="10" font-weight="bold" text-anchor="middle" fill="#333" stroke="#333" stroke-width="0.12">**</text>
<path d="M162.60,55.40 L162.60,53.20 L241.60,53.20 L241.60,55.40" fill="none" stroke="#777" stroke-width="1.2"/>
<text x="207.80" y="55.30" font-size="10" font-weight="bold" text-anchor="middle" fill="#333" stroke="#333" stroke-width="0.12">***</text>
<path d="M241.40,31.60 L241.40,29.40 L320.80,29.40 L320.80,31.60" fill="none" stroke="#666" stroke-width="1.2"/>
<text x="285.20" y="30.90" font-size="10" font-weight="bold" text-anchor="middle" fill="#333" stroke="#333" stroke-width="0.12">**</text>
<path d="M469.40,36.50 L469.40,34.30 L628.90,34.30 L628.90,36.50" fill="none" stroke="#555" stroke-width="1.2"/>
<text x="555.00" y="32.60" font-size="10" font-weight="bold" text-anchor="middle" fill="#333" stroke="#333" stroke-width="0.12">***</text>
<path d="M548.80,61.60 L548.80,59.40 L628.90,59.40 L628.90,61.60" fill="none" stroke="#555" stroke-width="1.2"/>
<text x="588.60" y="58.60" font-size="10" font-weight="bold" text-anchor="middle" fill="#333" stroke="#333" stroke-width="0.12">**</text>
<path d="M468.80,82.50 L468.80,80.30 L548.50,80.30 L548.50,82.50" fill="none" stroke="#777" stroke-width="1.2"/>
<text x="513.10" y="79.50" font-size="8" font-weight="normal" text-anchor="middle" fill="#444" >ns</text>
<rect x="49.3" y="12.6" width="46" height="12.8" fill="#fff" stroke="#a0a0a0" stroke-width="1"/>
<path d="M59.90,15.50 L62.90,19.30 L59.90,23.10 L56.90,19.30 Z" fill="#000"/>
<path d="M59.90,16.79 L61.88,19.30 L59.90,21.81 L57.92,19.30 Z" fill="#fff"/>
<text x="70.60" y="23.10" font-size="8.5" font-weight="bold" text-anchor="start" fill="#111" stroke="#111" stroke-width="0.15">mean</text>
<rect x="425.5" y="10.4" width="42.2" height="10.8" fill="#fff" stroke="#a0a0a0" stroke-width="1"/>
<path d="M432.60,12.30 L435.30,15.60 L432.60,18.90 L429.90,15.60 Z" fill="#000"/>
<path d="M432.60,13.56 L434.27,15.60 L432.60,17.64 L430.93,15.60 Z" fill="#fff"/>
<text x="443.90" y="18.10" font-size="8.2" font-weight="bold" text-anchor="start" fill="#111" stroke="#111" stroke-width="0.15">mean</text>
<text x="82.75" y="289.80" font-size="9.5" font-weight="bold" text-anchor="middle" fill="#111" >control group</text>
<text x="81.75" y="301.80" font-size="9.2" font-weight="normal" text-anchor="middle" fill="#111" stroke="#111" stroke-width="0.15">n=48</text>
<text x="162.80" y="289.80" font-size="9.5" font-weight="bold" text-anchor="middle" fill="#111" >PD group 0</text>
<text x="161.80" y="301.80" font-size="9.2" font-weight="normal" text-anchor="middle" fill="#111" stroke="#111" stroke-width="0.15">n=351</text>
<text x="241.50" y="289.80" font-size="9.5" font-weight="bold" text-anchor="middle" fill="#111" >PD group 1</text>
<text x="240.50" y="301.80" font-size="9.2" font-weight="normal" text-anchor="middle" fill="#111" stroke="#111" stroke-width="0.15">n=108</text>
<text x="320.90" y="289.80" font-size="9.5" font-weight="bold" text-anchor="middle" fill="#111" >PD group 2</text>
<text x="319.90" y="301.80" font-size="9.2" font-weight="normal" text-anchor="middle" fill="#111" stroke="#111" stroke-width="0.15">n=42</text>
<text x="463.40" y="288.90" font-size="9.3" font-weight="bold" text-anchor="middle" fill="#111" >PD group&#160;&#160;0</text>
<text x="462.20" y="301.50" font-size="9.2" font-weight="normal" text-anchor="middle" fill="#111" stroke="#111" stroke-width="0.15">n=99</text>
<text x="542.80" y="288.90" font-size="9.3" font-weight="bold" text-anchor="middle" fill="#111" >PD group&#160;&#160;1</text>
<text x="541.60" y="301.50" font-size="9.2" font-weight="normal" text-anchor="middle" fill="#111" stroke="#111" stroke-width="0.15">n=69</text>
<text x="623.30" y="288.90" font-size="9.3" font-weight="bold" text-anchor="middle" fill="#111" >PD group&#160;&#160;2</text>
<text x="622.10" y="301.50" font-size="9.2" font-weight="normal" text-anchor="middle" fill="#111" stroke="#111" stroke-width="0.15">n=39</text>
</svg></body></html>
